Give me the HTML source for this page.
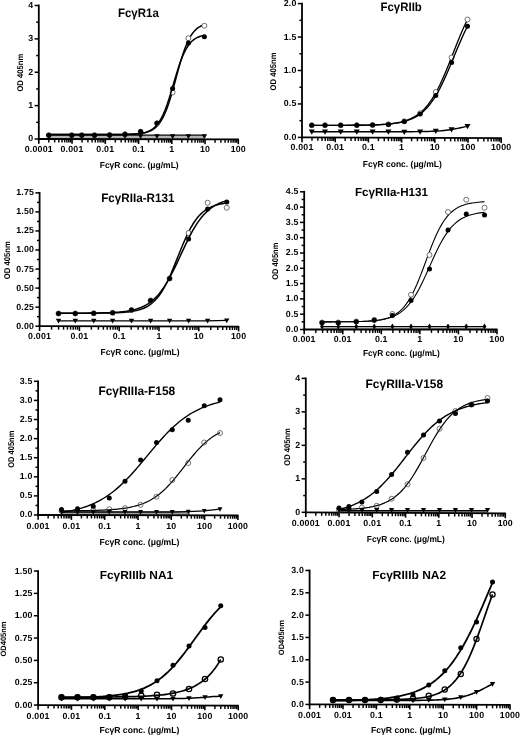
<!DOCTYPE html>
<html><head><meta charset="utf-8"><title>FcγR binding curves</title>
<style>
html,body{margin:0;padding:0;background:#fff;}
svg{display:block;will-change:transform;}
text{fill:#000;}
</style></head>
<body>
<svg width="520" height="736" viewBox="0 0 520 736" shape-rendering="geometricPrecision" text-rendering="geometricPrecision">
<rect x="0" y="0" width="520" height="736" fill="#fff"/>
<rect x="48.75" y="135.4" width="155.65" height="3.84" fill="#b4b4b4"/>
<g stroke="#000" stroke-width="1.8" fill="none" stroke-linecap="butt">
<path d="M38.8 4.58 V139.90"/>
<path d="M37.90 139.0 L238.90 139.40"/>
</g>
<g stroke="#000" stroke-width="1.5" fill="none">
<path d="M34.60 139.00 H38.8"/>
<path d="M36.20 122.31 H38.8"/>
<path d="M34.60 105.62 H38.8"/>
<path d="M36.20 88.93 H38.8"/>
<path d="M34.60 72.24 H38.8"/>
<path d="M36.20 55.55 H38.8"/>
<path d="M34.60 38.86 H38.8"/>
<path d="M36.20 22.17 H38.8"/>
<path d="M34.60 5.48 H38.8"/>
</g>
<g stroke="#000" stroke-width="1.6" fill="none">
<path d="M38.80 139.00 V143.80"/>
<path d="M48.81 139.02 V142.42" stroke-width="1.45"/>
<path d="M54.66 139.03 V142.43" stroke-width="1.45"/>
<path d="M58.82 139.04 V142.44" stroke-width="1.45"/>
<path d="M62.04 139.05 V142.45" stroke-width="1.45"/>
<path d="M64.67 139.05 V142.45" stroke-width="1.45"/>
<path d="M66.90 139.06 V142.46" stroke-width="1.45"/>
<path d="M68.83 139.06 V142.46" stroke-width="1.45"/>
<path d="M70.53 139.06 V142.46" stroke-width="1.45"/>
<path d="M72.05 139.07 V143.87"/>
<path d="M82.06 139.09 V142.49" stroke-width="1.45"/>
<path d="M87.91 139.10 V142.50" stroke-width="1.45"/>
<path d="M92.07 139.11 V142.51" stroke-width="1.45"/>
<path d="M95.29 139.11 V142.51" stroke-width="1.45"/>
<path d="M97.92 139.12 V142.52" stroke-width="1.45"/>
<path d="M100.15 139.12 V142.52" stroke-width="1.45"/>
<path d="M102.08 139.13 V142.53" stroke-width="1.45"/>
<path d="M103.78 139.13 V142.53" stroke-width="1.45"/>
<path d="M105.30 139.13 V143.93"/>
<path d="M115.31 139.15 V142.55" stroke-width="1.45"/>
<path d="M121.16 139.17 V142.57" stroke-width="1.45"/>
<path d="M125.32 139.17 V142.57" stroke-width="1.45"/>
<path d="M128.54 139.18 V142.58" stroke-width="1.45"/>
<path d="M131.17 139.19 V142.59" stroke-width="1.45"/>
<path d="M133.40 139.19 V142.59" stroke-width="1.45"/>
<path d="M135.33 139.19 V142.59" stroke-width="1.45"/>
<path d="M137.03 139.20 V142.60" stroke-width="1.45"/>
<path d="M138.55 139.20 V144.00"/>
<path d="M148.56 139.22 V142.62" stroke-width="1.45"/>
<path d="M154.41 139.23 V142.63" stroke-width="1.45"/>
<path d="M158.57 139.24 V142.64" stroke-width="1.45"/>
<path d="M161.79 139.25 V142.65" stroke-width="1.45"/>
<path d="M164.42 139.25 V142.65" stroke-width="1.45"/>
<path d="M166.65 139.26 V142.66" stroke-width="1.45"/>
<path d="M168.58 139.26 V142.66" stroke-width="1.45"/>
<path d="M170.28 139.26 V142.66" stroke-width="1.45"/>
<path d="M171.80 139.27 V144.07"/>
<path d="M181.81 139.29 V142.69" stroke-width="1.45"/>
<path d="M187.66 139.30 V142.70" stroke-width="1.45"/>
<path d="M191.82 139.31 V142.71" stroke-width="1.45"/>
<path d="M195.04 139.31 V142.71" stroke-width="1.45"/>
<path d="M197.67 139.32 V142.72" stroke-width="1.45"/>
<path d="M199.90 139.32 V142.72" stroke-width="1.45"/>
<path d="M201.83 139.33 V142.73" stroke-width="1.45"/>
<path d="M203.53 139.33 V142.73" stroke-width="1.45"/>
<path d="M205.05 139.33 V144.13"/>
<path d="M215.06 139.35 V142.75" stroke-width="1.45"/>
<path d="M220.91 139.37 V142.77" stroke-width="1.45"/>
<path d="M225.07 139.37 V142.77" stroke-width="1.45"/>
<path d="M228.29 139.38 V142.78" stroke-width="1.45"/>
<path d="M230.92 139.39 V142.79" stroke-width="1.45"/>
<path d="M233.15 139.39 V142.79" stroke-width="1.45"/>
<path d="M235.08 139.39 V142.79" stroke-width="1.45"/>
<path d="M236.78 139.40 V142.80" stroke-width="1.45"/>
<path d="M238.30 139.40 V144.20"/>
</g>
<g font-family='"Liberation Sans", Arial, Helvetica, sans-serif' font-weight="bold" font-size="8.8" letter-spacing="0.2" fill="#000">
<text x="33.30" y="141.47" text-anchor="end">0</text>
<text x="33.30" y="108.09" text-anchor="end">1</text>
<text x="33.30" y="74.71" text-anchor="end">2</text>
<text x="33.30" y="41.33" text-anchor="end">3</text>
<text x="33.30" y="7.95" text-anchor="end">4</text>
<text x="38.80" y="152.40" text-anchor="middle">0.0001</text>
<text x="72.05" y="152.40" text-anchor="middle">0.001</text>
<text x="105.30" y="152.40" text-anchor="middle">0.01</text>
<text x="138.55" y="152.40" text-anchor="middle">0.1</text>
<text x="171.80" y="152.40" text-anchor="middle">1</text>
<text x="205.05" y="152.40" text-anchor="middle">10</text>
<text x="238.30" y="152.40" text-anchor="middle">100</text>
</g>
<text x="139.2" y="167.5" text-anchor="middle" font-family='"Liberation Sans", Arial, Helvetica, sans-serif' font-weight="bold" font-size="8.8" textLength="79" lengthAdjust="spacingAndGlyphs">FcγR conc. (μg/mL)</text>
<text transform="translate(23.1 72.6) rotate(-90)" text-anchor="middle" font-family='"Liberation Sans", Arial, Helvetica, sans-serif' font-weight="bold" font-size="8.3" textLength="38" lengthAdjust="spacingAndGlyphs">OD 405nm</text>
<text x="117.9" y="17.3" text-anchor="start" font-family='"Liberation Sans", Arial, Helvetica, sans-serif' font-weight="bold" font-size="12.2" textLength="41" lengthAdjust="spacingAndGlyphs">FcγR1a</text>
<path d="M48.75 134.53 L50.72 134.53 L52.69 134.53 L54.66 134.53 L56.63 134.53 L58.60 134.53 L60.57 134.53 L62.54 134.53 L64.51 134.53 L66.48 134.53 L68.45 134.53 L70.42 134.53 L72.39 134.53 L74.36 134.53 L76.33 134.53 L78.30 134.53 L80.27 134.53 L82.24 134.53 L84.21 134.53 L86.18 134.53 L88.16 134.53 L90.13 134.53 L92.10 134.53 L94.07 134.53 L96.04 134.53 L98.01 134.53 L99.98 134.53 L101.95 134.53 L103.92 134.53 L105.89 134.52 L107.86 134.52 L109.83 134.52 L111.80 134.51 L113.77 134.51 L115.74 134.50 L117.71 134.49 L119.68 134.47 L121.65 134.45 L123.62 134.43 L125.59 134.39 L127.56 134.35 L129.53 134.30 L131.50 134.23 L133.47 134.14 L135.44 134.02 L137.41 133.87 L139.38 133.67 L141.35 133.41 L143.32 133.08 L145.29 132.65 L147.26 132.10 L149.23 131.39 L151.20 130.48 L153.17 129.33 L155.14 127.87 L157.11 126.02 L159.08 123.73 L161.05 120.89 L163.02 117.43 L164.99 113.28 L166.97 108.40 L168.94 102.80 L170.91 96.52 L172.88 89.69 L174.85 82.49 L176.82 75.15 L178.79 67.91 L180.76 61.01 L182.73 54.65 L184.70 48.94 L186.67 43.96 L188.64 39.72 L190.61 36.16 L192.58 33.24 L194.55 30.87 L196.52 28.97 L198.49 27.46 L200.46 26.27 L202.43 25.33 L204.40 24.60" fill="none" stroke="#000" stroke-width="1.5" stroke-linejoin="round"/>
<g fill="#fff" stroke="#444" stroke-width="0.75"><circle cx="48.75" cy="135.20" r="2.5"/><circle cx="71.75" cy="135.20" r="2.5"/><circle cx="81.75" cy="135.20" r="2.5"/><circle cx="94.50" cy="135.20" r="2.5"/><circle cx="109.60" cy="135.00" r="2.5"/><circle cx="125.00" cy="134.30" r="2.5"/><circle cx="140.60" cy="131.80" r="2.5"/><circle cx="157.00" cy="123.50" r="2.5"/><circle cx="172.60" cy="92.50" r="2.5"/><circle cx="188.40" cy="38.25" r="2.5"/><circle cx="204.40" cy="25.75" r="2.5"/></g>
<path d="M48.75 135.10 L71.75 135.10 L81.75 135.10 L94.50 135.10 L109.60 135.10 L125.00 135.10 L140.60 135.10 L157.00 135.10 L172.60 135.10 L188.40 135.10 L204.40 135.10" fill="none" stroke="#000" stroke-width="1.1" stroke-linejoin="round"/>
<g fill="#000"><path d="M46.05 134.28 L51.45 134.28 L48.75 139.08 Z"/><path d="M69.05 134.28 L74.45 134.28 L71.75 139.08 Z"/><path d="M79.05 134.28 L84.45 134.28 L81.75 139.08 Z"/><path d="M91.80 134.28 L97.20 134.28 L94.50 139.08 Z"/><path d="M106.90 134.28 L112.30 134.28 L109.60 139.08 Z"/><path d="M122.30 134.28 L127.70 134.28 L125.00 139.08 Z"/><path d="M137.90 134.28 L143.30 134.28 L140.60 139.08 Z"/><path d="M154.30 134.28 L159.70 134.28 L157.00 139.08 Z"/><path d="M169.90 134.28 L175.30 134.28 L172.60 139.08 Z"/><path d="M185.70 134.28 L191.10 134.28 L188.40 139.08 Z"/><path d="M201.70 134.28 L207.10 134.28 L204.40 139.08 Z"/></g>
<path d="M48.75 134.53 L50.72 134.53 L52.69 134.53 L54.66 134.53 L56.63 134.53 L58.60 134.53 L60.57 134.53 L62.54 134.53 L64.51 134.53 L66.48 134.53 L68.45 134.53 L70.42 134.53 L72.39 134.53 L74.36 134.53 L76.33 134.53 L78.30 134.53 L80.27 134.53 L82.24 134.53 L84.21 134.53 L86.18 134.53 L88.16 134.53 L90.13 134.53 L92.10 134.53 L94.07 134.53 L96.04 134.53 L98.01 134.53 L99.98 134.53 L101.95 134.53 L103.92 134.53 L105.89 134.52 L107.86 134.52 L109.83 134.52 L111.80 134.51 L113.77 134.51 L115.74 134.50 L117.71 134.48 L119.68 134.47 L121.65 134.45 L123.62 134.42 L125.59 134.39 L127.56 134.34 L129.53 134.28 L131.50 134.20 L133.47 134.10 L135.44 133.97 L137.41 133.79 L139.38 133.57 L141.35 133.28 L143.32 132.89 L145.29 132.40 L147.26 131.76 L149.23 130.93 L151.20 129.88 L153.17 128.53 L155.14 126.82 L157.11 124.68 L159.08 122.02 L161.05 118.76 L163.02 114.86 L164.99 110.26 L166.97 104.97 L168.94 99.07 L170.91 92.68 L172.88 86.00 L174.85 79.25 L176.82 72.68 L178.79 66.49 L180.76 60.85 L182.73 55.87 L184.70 51.59 L186.67 47.98 L188.64 45.00 L190.61 42.59 L192.58 40.65 L194.55 39.11 L196.52 37.90 L198.49 36.96 L200.46 36.22 L202.43 35.65 L204.40 35.21" fill="none" stroke="#000" stroke-width="1.5" stroke-linejoin="round"/>
<g fill="#000"><circle cx="48.75" cy="135.20" r="2.5"/><circle cx="71.75" cy="135.20" r="2.5"/><circle cx="81.75" cy="135.20" r="2.5"/><circle cx="94.50" cy="135.20" r="2.5"/><circle cx="109.60" cy="135.00" r="2.5"/><circle cx="125.00" cy="134.20" r="2.5"/><circle cx="140.60" cy="131.40" r="2.5"/><circle cx="157.00" cy="123.10" r="2.5"/><circle cx="172.60" cy="88.50" r="2.5"/><circle cx="188.40" cy="43.00" r="2.5"/><circle cx="204.40" cy="36.75" r="2.5"/></g>
<g stroke="#000" stroke-width="1.8" fill="none" stroke-linecap="butt">
<path d="M302.0 2.70 V138.30"/>
<path d="M301.10 137.4 L501.80 138.20"/>
</g>
<g stroke="#000" stroke-width="1.5" fill="none">
<path d="M297.80 137.40 H302.0"/>
<path d="M299.40 120.68 H302.0"/>
<path d="M297.80 103.95 H302.0"/>
<path d="M299.40 87.22 H302.0"/>
<path d="M297.80 70.50 H302.0"/>
<path d="M299.40 53.77 H302.0"/>
<path d="M297.80 37.05 H302.0"/>
<path d="M299.40 20.32 H302.0"/>
<path d="M297.80 3.60 H302.0"/>
</g>
<g stroke="#000" stroke-width="1.6" fill="none">
<path d="M302.00 137.40 V142.20"/>
<path d="M311.99 137.44 V140.84" stroke-width="1.45"/>
<path d="M317.84 137.46 V140.86" stroke-width="1.45"/>
<path d="M321.99 137.48 V140.88" stroke-width="1.45"/>
<path d="M325.21 137.49 V140.89" stroke-width="1.45"/>
<path d="M327.83 137.50 V140.90" stroke-width="1.45"/>
<path d="M330.06 137.51 V140.91" stroke-width="1.45"/>
<path d="M331.98 137.52 V140.92" stroke-width="1.45"/>
<path d="M333.68 137.53 V140.93" stroke-width="1.45"/>
<path d="M335.20 137.53 V142.33"/>
<path d="M345.19 137.57 V140.97" stroke-width="1.45"/>
<path d="M351.04 137.60 V141.00" stroke-width="1.45"/>
<path d="M355.19 137.61 V141.01" stroke-width="1.45"/>
<path d="M358.41 137.63 V141.03" stroke-width="1.45"/>
<path d="M361.03 137.64 V141.04" stroke-width="1.45"/>
<path d="M363.26 137.65 V141.05" stroke-width="1.45"/>
<path d="M365.18 137.65 V141.05" stroke-width="1.45"/>
<path d="M366.88 137.66 V141.06" stroke-width="1.45"/>
<path d="M368.40 137.67 V142.47"/>
<path d="M378.39 137.71 V141.11" stroke-width="1.45"/>
<path d="M384.24 137.73 V141.13" stroke-width="1.45"/>
<path d="M388.39 137.75 V141.15" stroke-width="1.45"/>
<path d="M391.61 137.76 V141.16" stroke-width="1.45"/>
<path d="M394.23 137.77 V141.17" stroke-width="1.45"/>
<path d="M396.46 137.78 V141.18" stroke-width="1.45"/>
<path d="M398.38 137.79 V141.19" stroke-width="1.45"/>
<path d="M400.08 137.79 V141.19" stroke-width="1.45"/>
<path d="M401.60 137.80 V142.60"/>
<path d="M411.59 137.84 V141.24" stroke-width="1.45"/>
<path d="M417.44 137.86 V141.26" stroke-width="1.45"/>
<path d="M421.59 137.88 V141.28" stroke-width="1.45"/>
<path d="M424.81 137.89 V141.29" stroke-width="1.45"/>
<path d="M427.43 137.90 V141.30" stroke-width="1.45"/>
<path d="M429.66 137.91 V141.31" stroke-width="1.45"/>
<path d="M431.58 137.92 V141.32" stroke-width="1.45"/>
<path d="M433.28 137.93 V141.33" stroke-width="1.45"/>
<path d="M434.80 137.93 V142.73"/>
<path d="M444.79 137.97 V141.37" stroke-width="1.45"/>
<path d="M450.64 138.00 V141.40" stroke-width="1.45"/>
<path d="M454.79 138.01 V141.41" stroke-width="1.45"/>
<path d="M458.01 138.03 V141.43" stroke-width="1.45"/>
<path d="M460.63 138.04 V141.44" stroke-width="1.45"/>
<path d="M462.86 138.05 V141.45" stroke-width="1.45"/>
<path d="M464.78 138.05 V141.45" stroke-width="1.45"/>
<path d="M466.48 138.06 V141.46" stroke-width="1.45"/>
<path d="M468.00 138.07 V142.87"/>
<path d="M477.99 138.11 V141.51" stroke-width="1.45"/>
<path d="M483.84 138.13 V141.53" stroke-width="1.45"/>
<path d="M487.99 138.15 V141.55" stroke-width="1.45"/>
<path d="M491.21 138.16 V141.56" stroke-width="1.45"/>
<path d="M493.83 138.17 V141.57" stroke-width="1.45"/>
<path d="M496.06 138.18 V141.58" stroke-width="1.45"/>
<path d="M497.98 138.19 V141.59" stroke-width="1.45"/>
<path d="M499.68 138.19 V141.59" stroke-width="1.45"/>
<path d="M501.20 138.20 V143.00"/>
</g>
<g font-family='"Liberation Sans", Arial, Helvetica, sans-serif' font-weight="bold" font-size="8.8" letter-spacing="0.2" fill="#000">
<text x="296.50" y="139.87" text-anchor="end">0.0</text>
<text x="296.50" y="106.42" text-anchor="end">0.5</text>
<text x="296.50" y="72.97" text-anchor="end">1.0</text>
<text x="296.50" y="39.52" text-anchor="end">1.5</text>
<text x="296.50" y="6.07" text-anchor="end">2.0</text>
<text x="302.00" y="150.30" text-anchor="middle">0.001</text>
<text x="335.20" y="150.30" text-anchor="middle">0.01</text>
<text x="368.40" y="150.30" text-anchor="middle">0.1</text>
<text x="401.60" y="150.30" text-anchor="middle">1</text>
<text x="434.80" y="150.30" text-anchor="middle">10</text>
<text x="468.00" y="150.30" text-anchor="middle">100</text>
<text x="501.20" y="150.30" text-anchor="middle">1000</text>
</g>
<text x="402.3" y="167.2" text-anchor="middle" font-family='"Liberation Sans", Arial, Helvetica, sans-serif' font-weight="bold" font-size="8.8" textLength="79" lengthAdjust="spacingAndGlyphs">FcγR conc. (μg/mL)</text>
<text transform="translate(275.6 71.5) rotate(-90)" text-anchor="middle" font-family='"Liberation Sans", Arial, Helvetica, sans-serif' font-weight="bold" font-size="8.3" textLength="38" lengthAdjust="spacingAndGlyphs">OD 405nm</text>
<text x="380.5" y="11.2" text-anchor="start" font-family='"Liberation Sans", Arial, Helvetica, sans-serif' font-weight="bold" font-size="12.2" textLength="41.3" lengthAdjust="spacingAndGlyphs">FcγRIIb</text>
<path d="M311.75 125.38 L313.72 125.38 L315.69 125.38 L317.66 125.38 L319.64 125.38 L321.61 125.38 L323.58 125.38 L325.55 125.37 L327.52 125.37 L329.49 125.37 L331.47 125.37 L333.44 125.36 L335.41 125.36 L337.38 125.35 L339.35 125.35 L341.32 125.34 L343.29 125.33 L345.27 125.32 L347.24 125.31 L349.21 125.30 L351.18 125.29 L353.15 125.27 L355.12 125.26 L357.09 125.24 L359.07 125.21 L361.04 125.19 L363.01 125.16 L364.98 125.12 L366.95 125.08 L368.92 125.04 L370.90 124.98 L372.87 124.92 L374.84 124.85 L376.81 124.77 L378.78 124.67 L380.75 124.57 L382.72 124.44 L384.70 124.30 L386.67 124.14 L388.64 123.95 L390.61 123.73 L392.58 123.49 L394.55 123.20 L396.53 122.88 L398.50 122.51 L400.47 122.08 L402.44 121.59 L404.41 121.04 L406.38 120.40 L408.35 119.68 L410.33 118.85 L412.30 117.91 L414.27 116.85 L416.24 115.65 L418.21 114.29 L420.18 112.75 L422.16 111.03 L424.13 109.11 L426.10 106.96 L428.07 104.58 L430.04 101.95 L432.01 99.06 L433.98 95.90 L435.96 92.46 L437.93 88.76 L439.90 84.79 L441.87 80.57 L443.84 76.13 L445.81 71.49 L447.78 66.69 L449.76 61.76 L451.73 56.76 L453.70 51.73 L455.67 46.72 L457.64 41.79 L459.61 36.97 L461.59 32.31 L463.56 27.84 L465.53 23.60 L467.50 19.61" fill="none" stroke="#000" stroke-width="1.3" stroke-linejoin="round"/>
<g fill="#fff" stroke="#444" stroke-width="0.75"><circle cx="311.75" cy="125.25" r="2.5"/><circle cx="325.00" cy="125.25" r="2.5"/><circle cx="340.70" cy="125.25" r="2.5"/><circle cx="356.80" cy="125.20" r="2.5"/><circle cx="372.60" cy="125.00" r="2.5"/><circle cx="388.40" cy="124.30" r="2.5"/><circle cx="404.30" cy="121.30" r="2.5"/><circle cx="420.10" cy="113.30" r="2.5"/><circle cx="435.80" cy="92.00" r="2.5"/><circle cx="451.60" cy="57.50" r="2.5"/><circle cx="467.50" cy="19.50" r="2.5"/></g>
<path d="M311.75 131.75 L313.72 131.75 L315.69 131.75 L317.66 131.75 L319.64 131.75 L321.61 131.75 L323.58 131.75 L325.55 131.75 L327.52 131.75 L329.49 131.75 L331.47 131.75 L333.44 131.75 L335.41 131.75 L337.38 131.75 L339.35 131.75 L341.32 131.75 L343.29 131.75 L345.27 131.75 L347.24 131.75 L349.21 131.75 L351.18 131.75 L353.15 131.75 L355.12 131.75 L357.09 131.75 L359.07 131.75 L361.04 131.75 L363.01 131.75 L364.98 131.75 L366.95 131.75 L368.92 131.75 L370.90 131.75 L372.87 131.75 L374.84 131.75 L376.81 131.75 L378.78 131.75 L380.75 131.75 L382.72 131.75 L384.70 131.75 L386.67 131.74 L388.64 131.74 L390.61 131.74 L392.58 131.74 L394.55 131.74 L396.53 131.73 L398.50 131.73 L400.47 131.73 L402.44 131.72 L404.41 131.72 L406.38 131.71 L408.35 131.70 L410.33 131.69 L412.30 131.68 L414.27 131.66 L416.24 131.64 L418.21 131.62 L420.18 131.60 L422.16 131.56 L424.13 131.53 L426.10 131.48 L428.07 131.43 L430.04 131.37 L432.01 131.29 L433.98 131.21 L435.96 131.10 L437.93 130.98 L439.90 130.84 L441.87 130.68 L443.84 130.49 L445.81 130.28 L447.78 130.03 L449.76 129.76 L451.73 129.45 L453.70 129.11 L455.67 128.75 L457.64 128.36 L459.61 127.96 L461.59 127.53 L463.56 127.10 L465.53 126.68 L467.50 126.25" fill="none" stroke="#000" stroke-width="1.4" stroke-linejoin="round"/>
<g fill="#000"><path d="M308.75 129.52 L314.75 129.52 L311.75 134.72 Z"/><path d="M322.00 129.52 L328.00 129.52 L325.00 134.72 Z"/><path d="M337.70 129.52 L343.70 129.52 L340.70 134.72 Z"/><path d="M353.80 129.52 L359.80 129.52 L356.80 134.72 Z"/><path d="M369.60 129.52 L375.60 129.52 L372.60 134.72 Z"/><path d="M385.40 129.52 L391.40 129.52 L388.40 134.72 Z"/><path d="M401.30 129.82 L407.30 129.82 L404.30 135.02 Z"/><path d="M417.10 129.52 L423.10 129.52 L420.10 134.72 Z"/><path d="M432.80 128.82 L438.80 128.82 L435.80 134.02 Z"/><path d="M448.60 127.32 L454.60 127.32 L451.60 132.52 Z"/><path d="M464.50 124.07 L470.50 124.07 L467.50 129.27 Z"/></g>
<path d="M311.75 125.38 L313.72 125.38 L315.69 125.38 L317.66 125.38 L319.64 125.38 L321.61 125.38 L323.58 125.38 L325.55 125.37 L327.52 125.37 L329.49 125.37 L331.47 125.37 L333.44 125.36 L335.41 125.36 L337.38 125.36 L339.35 125.35 L341.32 125.34 L343.29 125.34 L345.27 125.33 L347.24 125.32 L349.21 125.31 L351.18 125.30 L353.15 125.28 L355.12 125.27 L357.09 125.25 L359.07 125.23 L361.04 125.20 L363.01 125.18 L364.98 125.14 L366.95 125.11 L368.92 125.06 L370.90 125.02 L372.87 124.96 L374.84 124.89 L376.81 124.82 L378.78 124.74 L380.75 124.64 L382.72 124.52 L384.70 124.40 L386.67 124.25 L388.64 124.08 L390.61 123.88 L392.58 123.66 L394.55 123.40 L396.53 123.10 L398.50 122.77 L400.47 122.38 L402.44 121.94 L404.41 121.43 L406.38 120.86 L408.35 120.20 L410.33 119.45 L412.30 118.60 L414.27 117.64 L416.24 116.55 L418.21 115.31 L420.18 113.92 L422.16 112.36 L424.13 110.61 L426.10 108.66 L428.07 106.49 L430.04 104.09 L432.01 101.44 L433.98 98.55 L435.96 95.39 L437.93 91.98 L439.90 88.32 L441.87 84.41 L443.84 80.28 L445.81 75.95 L447.78 71.45 L449.76 66.82 L451.73 62.09 L453.70 57.32 L455.67 52.54 L457.64 47.81 L459.61 43.17 L461.59 38.67 L463.56 34.33 L465.53 30.19 L467.50 26.28" fill="none" stroke="#000" stroke-width="1.4" stroke-linejoin="round"/>
<g fill="#000"><circle cx="311.75" cy="125.25" r="2.5"/><circle cx="325.00" cy="125.25" r="2.5"/><circle cx="340.70" cy="125.25" r="2.5"/><circle cx="356.80" cy="125.20" r="2.5"/><circle cx="372.60" cy="125.00" r="2.5"/><circle cx="388.40" cy="124.50" r="2.5"/><circle cx="404.30" cy="121.50" r="2.5"/><circle cx="420.10" cy="114.00" r="2.5"/><circle cx="435.80" cy="95.50" r="2.5"/><circle cx="451.60" cy="62.50" r="2.5"/><circle cx="467.50" cy="26.25" r="2.5"/></g>
<g stroke="#000" stroke-width="1.8" fill="none" stroke-linecap="butt">
<path d="M39.6 191.95 V327.10"/>
<path d="M38.70 326.2 L239.20 326.60"/>
</g>
<g stroke="#000" stroke-width="1.5" fill="none">
<path d="M35.40 326.20 H39.6"/>
<path d="M37.00 316.68 H39.6"/>
<path d="M35.40 307.15 H39.6"/>
<path d="M37.00 297.62 H39.6"/>
<path d="M35.40 288.10 H39.6"/>
<path d="M37.00 278.57 H39.6"/>
<path d="M35.40 269.05 H39.6"/>
<path d="M37.00 259.52 H39.6"/>
<path d="M35.40 250.00 H39.6"/>
<path d="M37.00 240.47 H39.6"/>
<path d="M35.40 230.95 H39.6"/>
<path d="M37.00 221.42 H39.6"/>
<path d="M35.40 211.90 H39.6"/>
<path d="M37.00 202.37 H39.6"/>
<path d="M35.40 192.85 H39.6"/>
</g>
<g stroke="#000" stroke-width="1.6" fill="none">
<path d="M39.60 326.20 V331.00"/>
<path d="M51.58 326.22 V329.62" stroke-width="1.45"/>
<path d="M58.59 326.24 V329.64" stroke-width="1.45"/>
<path d="M63.56 326.25 V329.65" stroke-width="1.45"/>
<path d="M67.42 326.26 V329.66" stroke-width="1.45"/>
<path d="M70.57 326.26 V329.66" stroke-width="1.45"/>
<path d="M73.23 326.27 V329.67" stroke-width="1.45"/>
<path d="M75.54 326.27 V329.67" stroke-width="1.45"/>
<path d="M77.58 326.28 V329.68" stroke-width="1.45"/>
<path d="M79.40 326.28 V331.08"/>
<path d="M91.38 326.30 V329.70" stroke-width="1.45"/>
<path d="M98.39 326.32 V329.72" stroke-width="1.45"/>
<path d="M103.36 326.33 V329.73" stroke-width="1.45"/>
<path d="M107.22 326.34 V329.74" stroke-width="1.45"/>
<path d="M110.37 326.34 V329.74" stroke-width="1.45"/>
<path d="M113.03 326.35 V329.75" stroke-width="1.45"/>
<path d="M115.34 326.35 V329.75" stroke-width="1.45"/>
<path d="M117.38 326.36 V329.76" stroke-width="1.45"/>
<path d="M119.20 326.36 V331.16"/>
<path d="M131.18 326.38 V329.78" stroke-width="1.45"/>
<path d="M138.19 326.40 V329.80" stroke-width="1.45"/>
<path d="M143.16 326.41 V329.81" stroke-width="1.45"/>
<path d="M147.02 326.42 V329.82" stroke-width="1.45"/>
<path d="M150.17 326.42 V329.82" stroke-width="1.45"/>
<path d="M152.83 326.43 V329.83" stroke-width="1.45"/>
<path d="M155.14 326.43 V329.83" stroke-width="1.45"/>
<path d="M157.18 326.44 V329.84" stroke-width="1.45"/>
<path d="M159.00 326.44 V331.24"/>
<path d="M170.98 326.46 V329.86" stroke-width="1.45"/>
<path d="M177.99 326.48 V329.88" stroke-width="1.45"/>
<path d="M182.96 326.49 V329.89" stroke-width="1.45"/>
<path d="M186.82 326.50 V329.90" stroke-width="1.45"/>
<path d="M189.97 326.50 V329.90" stroke-width="1.45"/>
<path d="M192.63 326.51 V329.91" stroke-width="1.45"/>
<path d="M194.94 326.51 V329.91" stroke-width="1.45"/>
<path d="M196.98 326.52 V329.92" stroke-width="1.45"/>
<path d="M198.80 326.52 V331.32"/>
<path d="M210.78 326.54 V329.94" stroke-width="1.45"/>
<path d="M217.79 326.56 V329.96" stroke-width="1.45"/>
<path d="M222.76 326.57 V329.97" stroke-width="1.45"/>
<path d="M226.62 326.58 V329.98" stroke-width="1.45"/>
<path d="M229.77 326.58 V329.98" stroke-width="1.45"/>
<path d="M232.43 326.59 V329.99" stroke-width="1.45"/>
<path d="M234.74 326.59 V329.99" stroke-width="1.45"/>
<path d="M236.78 326.60 V330.00" stroke-width="1.45"/>
<path d="M238.60 326.60 V331.40"/>
</g>
<g font-family='"Liberation Sans", Arial, Helvetica, sans-serif' font-weight="bold" font-size="8.8" letter-spacing="0.2" fill="#000">
<text x="34.10" y="328.67" text-anchor="end">0.00</text>
<text x="34.10" y="309.62" text-anchor="end">0.25</text>
<text x="34.10" y="290.57" text-anchor="end">0.50</text>
<text x="34.10" y="271.52" text-anchor="end">0.75</text>
<text x="34.10" y="252.47" text-anchor="end">1.00</text>
<text x="34.10" y="233.42" text-anchor="end">1.25</text>
<text x="34.10" y="214.37" text-anchor="end">1.50</text>
<text x="34.10" y="195.32" text-anchor="end">1.75</text>
<text x="39.60" y="339.30" text-anchor="middle">0.001</text>
<text x="79.40" y="339.30" text-anchor="middle">0.01</text>
<text x="119.20" y="339.30" text-anchor="middle">0.1</text>
<text x="159.00" y="339.30" text-anchor="middle">1</text>
<text x="198.80" y="339.30" text-anchor="middle">10</text>
<text x="238.60" y="339.30" text-anchor="middle">100</text>
</g>
<text x="140.0" y="355.3" text-anchor="middle" font-family='"Liberation Sans", Arial, Helvetica, sans-serif' font-weight="bold" font-size="8.8" textLength="79" lengthAdjust="spacingAndGlyphs">FcγR conc. (μg/mL)</text>
<text transform="translate(9.8 260.2) rotate(-90)" text-anchor="middle" font-family='"Liberation Sans", Arial, Helvetica, sans-serif' font-weight="bold" font-size="8.3" textLength="38" lengthAdjust="spacingAndGlyphs">OD 405nm</text>
<text x="101.25" y="202" text-anchor="start" font-family='"Liberation Sans", Arial, Helvetica, sans-serif' font-weight="bold" font-size="12.2" textLength="73.25" lengthAdjust="spacingAndGlyphs">FcγRIIa-R131</text>
<path d="M58.50 313.23 L60.63 313.23 L62.76 313.23 L64.89 313.23 L67.02 313.23 L69.15 313.22 L71.28 313.22 L73.41 313.22 L75.54 313.22 L77.67 313.22 L79.80 313.21 L81.93 313.21 L84.06 313.21 L86.19 313.20 L88.32 313.20 L90.45 313.19 L92.58 313.18 L94.71 313.17 L96.84 313.15 L98.97 313.14 L101.09 313.12 L103.22 313.10 L105.35 313.07 L107.48 313.03 L109.61 312.99 L111.74 312.94 L113.87 312.88 L116.00 312.80 L118.13 312.71 L120.26 312.60 L122.39 312.47 L124.52 312.31 L126.65 312.12 L128.78 311.89 L130.91 311.60 L133.04 311.27 L135.17 310.86 L137.30 310.37 L139.43 309.78 L141.56 309.08 L143.69 308.24 L145.82 307.23 L147.95 306.05 L150.08 304.64 L152.21 302.99 L154.34 301.05 L156.47 298.81 L158.60 296.22 L160.73 293.26 L162.86 289.91 L164.99 286.17 L167.12 282.04 L169.25 277.54 L171.38 272.73 L173.51 267.65 L175.64 262.40 L177.77 257.06 L179.90 251.73 L182.03 246.50 L184.16 241.46 L186.28 236.70 L188.41 232.27 L190.54 228.20 L192.67 224.53 L194.80 221.25 L196.93 218.35 L199.06 215.82 L201.19 213.63 L203.32 211.75 L205.45 210.14 L207.58 208.77 L209.71 207.62 L211.84 206.64 L213.97 205.83 L216.10 205.15 L218.23 204.58 L220.36 204.10 L222.49 203.71 L224.62 203.38 L226.75 203.11" fill="none" stroke="#000" stroke-width="1.5" stroke-linejoin="round"/>
<g fill="#fff" stroke="#444" stroke-width="0.75"><circle cx="58.50" cy="313.50" r="2.5"/><circle cx="75.30" cy="313.50" r="2.5"/><circle cx="93.75" cy="313.30" r="2.5"/><circle cx="112.60" cy="312.80" r="2.5"/><circle cx="131.50" cy="310.00" r="2.5"/><circle cx="150.60" cy="300.50" r="2.5"/><circle cx="169.60" cy="278.50" r="2.5"/><circle cx="188.60" cy="233.00" r="2.5"/><circle cx="207.60" cy="202.75" r="2.5"/><circle cx="226.75" cy="207.75" r="2.5"/></g>
<path d="M58.50 320.80 L75.30 320.80 L93.75 320.80 L112.60 320.80 L131.50 320.80 L150.60 320.80 L169.60 320.80 L188.60 320.80 L207.60 320.80 L226.75 320.40" fill="none" stroke="#000" stroke-width="1.3" stroke-linejoin="round"/>
<g fill="#000"><path d="M55.80 318.78 L61.20 318.78 L58.50 323.58 Z"/><path d="M72.60 318.78 L78.00 318.78 L75.30 323.58 Z"/><path d="M91.05 318.78 L96.45 318.78 L93.75 323.58 Z"/><path d="M109.90 318.78 L115.30 318.78 L112.60 323.58 Z"/><path d="M128.80 318.78 L134.20 318.78 L131.50 323.58 Z"/><path d="M147.90 318.78 L153.30 318.78 L150.60 323.58 Z"/><path d="M166.90 318.78 L172.30 318.78 L169.60 323.58 Z"/><path d="M185.90 318.78 L191.30 318.78 L188.60 323.58 Z"/><path d="M204.90 318.78 L210.30 318.78 L207.60 323.58 Z"/><path d="M224.05 318.38 L229.45 318.38 L226.75 323.18 Z"/></g>
<path d="M58.50 313.22 L60.63 313.22 L62.76 313.21 L64.89 313.21 L67.02 313.21 L69.15 313.20 L71.28 313.20 L73.41 313.19 L75.54 313.18 L77.67 313.18 L79.80 313.17 L81.93 313.16 L84.06 313.14 L86.19 313.13 L88.32 313.11 L90.45 313.09 L92.58 313.07 L94.71 313.04 L96.84 313.01 L98.97 312.97 L101.09 312.92 L103.22 312.87 L105.35 312.81 L107.48 312.73 L109.61 312.65 L111.74 312.55 L113.87 312.43 L116.00 312.30 L118.13 312.14 L120.26 311.95 L122.39 311.73 L124.52 311.48 L126.65 311.19 L128.78 310.84 L130.91 310.44 L133.04 309.97 L135.17 309.43 L137.30 308.80 L139.43 308.08 L141.56 307.23 L143.69 306.26 L145.82 305.15 L147.95 303.87 L150.08 302.41 L152.21 300.75 L154.34 298.87 L156.47 296.75 L158.60 294.38 L160.73 291.73 L162.86 288.81 L164.99 285.61 L167.12 282.14 L169.25 278.39 L171.38 274.41 L173.51 270.20 L175.64 265.83 L177.77 261.32 L179.90 256.74 L182.03 252.13 L184.16 247.57 L186.28 243.10 L188.41 238.77 L190.54 234.64 L192.67 230.73 L194.80 227.07 L196.93 223.69 L199.06 220.58 L201.19 217.75 L203.32 215.20 L205.45 212.92 L207.58 210.88 L209.71 209.07 L211.84 207.48 L213.97 206.08 L216.10 204.86 L218.23 203.80 L220.36 202.87 L222.49 202.07 L224.62 201.38 L226.75 200.78" fill="none" stroke="#000" stroke-width="1.5" stroke-linejoin="round"/>
<g fill="#000"><circle cx="58.50" cy="313.50" r="2.5"/><circle cx="75.30" cy="313.50" r="2.5"/><circle cx="93.75" cy="313.30" r="2.5"/><circle cx="112.60" cy="312.80" r="2.5"/><circle cx="131.50" cy="310.00" r="2.5"/><circle cx="150.60" cy="300.50" r="2.5"/><circle cx="169.60" cy="278.50" r="2.5"/><circle cx="188.60" cy="239.00" r="2.5"/><circle cx="207.60" cy="209.00" r="2.5"/><circle cx="226.75" cy="202.00" r="2.5"/></g>
<rect x="322" y="326.6" width="162.5" height="2.90" fill="#b0b0b0"/>
<g stroke="#000" stroke-width="1.8" fill="none" stroke-linecap="butt">
<path d="M304.2 190.90 V330.40"/>
<path d="M303.30 329.5 L497.55 329.50"/>
</g>
<g stroke="#000" stroke-width="1.5" fill="none">
<path d="M300.00 329.50 H304.2"/>
<path d="M301.60 321.85 H304.2"/>
<path d="M300.00 314.20 H304.2"/>
<path d="M301.60 306.55 H304.2"/>
<path d="M300.00 298.90 H304.2"/>
<path d="M301.60 291.25 H304.2"/>
<path d="M300.00 283.60 H304.2"/>
<path d="M301.60 275.95 H304.2"/>
<path d="M300.00 268.30 H304.2"/>
<path d="M301.60 260.65 H304.2"/>
<path d="M300.00 253.00 H304.2"/>
<path d="M301.60 245.35 H304.2"/>
<path d="M300.00 237.70 H304.2"/>
<path d="M301.60 230.05 H304.2"/>
<path d="M300.00 222.40 H304.2"/>
<path d="M301.60 214.75 H304.2"/>
<path d="M300.00 207.10 H304.2"/>
<path d="M301.60 199.45 H304.2"/>
<path d="M300.00 191.80 H304.2"/>
</g>
<g stroke="#000" stroke-width="1.6" fill="none">
<path d="M304.20 329.50 V334.30"/>
<path d="M315.80 329.50 V332.90" stroke-width="1.45"/>
<path d="M322.59 329.50 V332.90" stroke-width="1.45"/>
<path d="M327.41 329.50 V332.90" stroke-width="1.45"/>
<path d="M331.15 329.50 V332.90" stroke-width="1.45"/>
<path d="M334.20 329.50 V332.90" stroke-width="1.45"/>
<path d="M336.78 329.50 V332.90" stroke-width="1.45"/>
<path d="M339.01 329.50 V332.90" stroke-width="1.45"/>
<path d="M340.99 329.50 V332.90" stroke-width="1.45"/>
<path d="M342.75 329.50 V334.30"/>
<path d="M354.35 329.50 V332.90" stroke-width="1.45"/>
<path d="M361.14 329.50 V332.90" stroke-width="1.45"/>
<path d="M365.96 329.50 V332.90" stroke-width="1.45"/>
<path d="M369.70 329.50 V332.90" stroke-width="1.45"/>
<path d="M372.75 329.50 V332.90" stroke-width="1.45"/>
<path d="M375.33 329.50 V332.90" stroke-width="1.45"/>
<path d="M377.56 329.50 V332.90" stroke-width="1.45"/>
<path d="M379.54 329.50 V332.90" stroke-width="1.45"/>
<path d="M381.30 329.50 V334.30"/>
<path d="M392.90 329.50 V332.90" stroke-width="1.45"/>
<path d="M399.69 329.50 V332.90" stroke-width="1.45"/>
<path d="M404.51 329.50 V332.90" stroke-width="1.45"/>
<path d="M408.25 329.50 V332.90" stroke-width="1.45"/>
<path d="M411.30 329.50 V332.90" stroke-width="1.45"/>
<path d="M413.88 329.50 V332.90" stroke-width="1.45"/>
<path d="M416.11 329.50 V332.90" stroke-width="1.45"/>
<path d="M418.09 329.50 V332.90" stroke-width="1.45"/>
<path d="M419.85 329.50 V334.30"/>
<path d="M431.45 329.50 V332.90" stroke-width="1.45"/>
<path d="M438.24 329.50 V332.90" stroke-width="1.45"/>
<path d="M443.06 329.50 V332.90" stroke-width="1.45"/>
<path d="M446.80 329.50 V332.90" stroke-width="1.45"/>
<path d="M449.85 329.50 V332.90" stroke-width="1.45"/>
<path d="M452.43 329.50 V332.90" stroke-width="1.45"/>
<path d="M454.66 329.50 V332.90" stroke-width="1.45"/>
<path d="M456.64 329.50 V332.90" stroke-width="1.45"/>
<path d="M458.40 329.50 V334.30"/>
<path d="M470.00 329.50 V332.90" stroke-width="1.45"/>
<path d="M476.79 329.50 V332.90" stroke-width="1.45"/>
<path d="M481.61 329.50 V332.90" stroke-width="1.45"/>
<path d="M485.35 329.50 V332.90" stroke-width="1.45"/>
<path d="M488.40 329.50 V332.90" stroke-width="1.45"/>
<path d="M490.98 329.50 V332.90" stroke-width="1.45"/>
<path d="M493.21 329.50 V332.90" stroke-width="1.45"/>
<path d="M495.19 329.50 V332.90" stroke-width="1.45"/>
<path d="M496.95 329.50 V334.30"/>
</g>
<g font-family='"Liberation Sans", Arial, Helvetica, sans-serif' font-weight="bold" font-size="8.8" letter-spacing="0.2" fill="#000">
<text x="298.70" y="331.97" text-anchor="end">0.0</text>
<text x="298.70" y="316.67" text-anchor="end">0.5</text>
<text x="298.70" y="301.37" text-anchor="end">1.0</text>
<text x="298.70" y="286.07" text-anchor="end">1.5</text>
<text x="298.70" y="270.77" text-anchor="end">2.0</text>
<text x="298.70" y="255.47" text-anchor="end">2.5</text>
<text x="298.70" y="240.17" text-anchor="end">3.0</text>
<text x="298.70" y="224.87" text-anchor="end">3.5</text>
<text x="298.70" y="209.57" text-anchor="end">4.0</text>
<text x="298.70" y="194.27" text-anchor="end">4.5</text>
<text x="304.20" y="342.00" text-anchor="middle">0.001</text>
<text x="342.75" y="342.00" text-anchor="middle">0.01</text>
<text x="381.30" y="342.00" text-anchor="middle">0.1</text>
<text x="419.85" y="342.00" text-anchor="middle">1</text>
<text x="458.40" y="342.00" text-anchor="middle">10</text>
<text x="496.95" y="342.00" text-anchor="middle">100</text>
</g>
<text x="401.4" y="356.2" text-anchor="middle" font-family='"Liberation Sans", Arial, Helvetica, sans-serif' font-weight="bold" font-size="8.8" textLength="77" lengthAdjust="spacingAndGlyphs">FcγR conc. (μg/mL)</text>
<text transform="translate(278.2 261.2) rotate(-90)" text-anchor="middle" font-family='"Liberation Sans", Arial, Helvetica, sans-serif' font-weight="bold" font-size="8.3" textLength="37" lengthAdjust="spacingAndGlyphs">OD 405nm</text>
<text x="355" y="195.8" text-anchor="start" font-family='"Liberation Sans", Arial, Helvetica, sans-serif' font-weight="bold" font-size="11.8" textLength="73" lengthAdjust="spacingAndGlyphs">FcγRIIa-H131</text>
<path d="M322.00 321.85 L324.06 321.85 L326.11 321.84 L328.17 321.84 L330.23 321.84 L332.28 321.83 L334.34 321.83 L336.40 321.82 L338.46 321.81 L340.51 321.80 L342.57 321.79 L344.63 321.78 L346.68 321.76 L348.74 321.74 L350.80 321.72 L352.85 321.69 L354.91 321.65 L356.97 321.61 L359.03 321.56 L361.08 321.50 L363.14 321.43 L365.20 321.34 L367.25 321.23 L369.31 321.11 L371.37 320.95 L373.42 320.77 L375.48 320.55 L377.54 320.29 L379.59 319.98 L381.65 319.60 L383.71 319.16 L385.77 318.62 L387.82 317.99 L389.88 317.23 L391.94 316.33 L393.99 315.27 L396.05 314.02 L398.11 312.56 L400.16 310.84 L402.22 308.85 L404.28 306.55 L406.34 303.90 L408.39 300.89 L410.45 297.50 L412.51 293.71 L414.56 289.53 L416.62 284.97 L418.68 280.08 L420.73 274.90 L422.79 269.51 L424.85 263.98 L426.91 258.41 L428.96 252.90 L431.02 247.52 L433.08 242.37 L435.13 237.52 L437.19 233.00 L439.25 228.86 L441.30 225.12 L443.36 221.77 L445.42 218.80 L447.47 216.19 L449.53 213.92 L451.59 211.96 L453.65 210.27 L455.70 208.83 L457.76 207.61 L459.82 206.57 L461.87 205.69 L463.93 204.94 L465.99 204.32 L468.04 203.80 L470.10 203.36 L472.16 202.99 L474.22 202.68 L476.27 202.43 L478.33 202.21 L480.39 202.03 L482.44 201.88 L484.50 201.76" fill="none" stroke="#000" stroke-width="1.1" stroke-linejoin="round"/>
<g fill="#fff" stroke="#444" stroke-width="0.75"><circle cx="322.00" cy="322.50" r="2.5"/><circle cx="338.25" cy="322.50" r="2.5"/><circle cx="356.25" cy="321.50" r="2.5"/><circle cx="374.25" cy="319.80" r="2.5"/><circle cx="392.40" cy="314.00" r="2.5"/><circle cx="411.00" cy="294.75" r="2.5"/><circle cx="429.50" cy="255.00" r="2.5"/><circle cx="448.00" cy="212.00" r="2.5"/><circle cx="466.25" cy="199.75" r="2.5"/><circle cx="484.50" cy="207.75" r="2.5"/></g>
<path d="M322.00 326.50 L338.25 326.50 L356.25 326.50 L374.25 326.50 L392.40 326.50 L411.00 326.50 L429.50 326.50 L448.00 326.50 L466.25 326.50 L484.50 326.50" fill="none" stroke="#000" stroke-width="1.2" stroke-linejoin="round"/>
<g fill="#000"><path d="M320.10 326.50 L322.00 323.50 L323.90 326.50 L322.00 329.50 Z"/><path d="M336.35 326.50 L338.25 323.50 L340.15 326.50 L338.25 329.50 Z"/><path d="M354.35 326.50 L356.25 323.50 L358.15 326.50 L356.25 329.50 Z"/><path d="M372.35 326.50 L374.25 323.50 L376.15 326.50 L374.25 329.50 Z"/><path d="M390.50 326.50 L392.40 323.50 L394.30 326.50 L392.40 329.50 Z"/><path d="M409.10 326.50 L411.00 323.50 L412.90 326.50 L411.00 329.50 Z"/><path d="M427.60 326.50 L429.50 323.50 L431.40 326.50 L429.50 329.50 Z"/><path d="M446.10 326.50 L448.00 323.50 L449.90 326.50 L448.00 329.50 Z"/><path d="M464.35 326.50 L466.25 323.50 L468.15 326.50 L466.25 329.50 Z"/><path d="M482.60 326.50 L484.50 323.50 L486.40 326.50 L484.50 329.50 Z"/></g>
<path d="M322.00 321.84 L324.06 321.84 L326.11 321.84 L328.17 321.83 L330.23 321.83 L332.28 321.82 L334.34 321.81 L336.40 321.80 L338.46 321.79 L340.51 321.78 L342.57 321.77 L344.63 321.75 L346.68 321.73 L348.74 321.71 L350.80 321.68 L352.85 321.65 L354.91 321.61 L356.97 321.56 L359.03 321.51 L361.08 321.45 L363.14 321.37 L365.20 321.28 L367.25 321.18 L369.31 321.05 L371.37 320.91 L373.42 320.74 L375.48 320.53 L377.54 320.30 L379.59 320.01 L381.65 319.68 L383.71 319.30 L385.77 318.84 L387.82 318.31 L389.88 317.68 L391.94 316.96 L393.99 316.11 L396.05 315.12 L398.11 313.98 L400.16 312.66 L402.22 311.14 L404.28 309.41 L406.34 307.43 L408.39 305.19 L410.45 302.68 L412.51 299.87 L414.56 296.77 L416.62 293.37 L418.68 289.68 L420.73 285.72 L422.79 281.53 L424.85 277.14 L426.91 272.60 L428.96 267.99 L431.02 263.35 L433.08 258.75 L435.13 254.27 L437.19 249.94 L439.25 245.82 L441.30 241.96 L443.36 238.37 L445.42 235.07 L447.47 232.07 L449.53 229.37 L451.59 226.95 L453.65 224.80 L455.70 222.91 L457.76 221.26 L459.82 219.81 L461.87 218.56 L463.93 217.47 L465.99 216.53 L468.04 215.73 L470.10 215.04 L472.16 214.45 L474.22 213.94 L476.27 213.51 L478.33 213.15 L480.39 212.83 L482.44 212.57 L484.50 212.34" fill="none" stroke="#000" stroke-width="1.1" stroke-linejoin="round"/>
<g fill="#000"><circle cx="322.00" cy="322.75" r="2.5"/><circle cx="338.25" cy="322.75" r="2.5"/><circle cx="356.25" cy="321.75" r="2.5"/><circle cx="374.25" cy="320.25" r="2.5"/><circle cx="392.40" cy="315.50" r="2.5"/><circle cx="411.00" cy="300.50" r="2.5"/><circle cx="429.50" cy="269.00" r="2.5"/><circle cx="448.00" cy="230.00" r="2.5"/><circle cx="466.25" cy="214.00" r="2.5"/><circle cx="484.50" cy="215.00" r="2.5"/></g>
<rect x="61.5" y="511.5" width="128.5" height="3.68" fill="#a0a0a0"/>
<g stroke="#000" stroke-width="1.8" fill="none" stroke-linecap="butt">
<path d="M38.1 380.40 V515.90"/>
<path d="M37.20 515.0 L238.50 515.30"/>
</g>
<g stroke="#000" stroke-width="1.5" fill="none">
<path d="M33.90 515.00 H38.1"/>
<path d="M35.50 505.45 H38.1"/>
<path d="M33.90 495.90 H38.1"/>
<path d="M35.50 486.35 H38.1"/>
<path d="M33.90 476.80 H38.1"/>
<path d="M35.50 467.25 H38.1"/>
<path d="M33.90 457.70 H38.1"/>
<path d="M35.50 448.15 H38.1"/>
<path d="M33.90 438.60 H38.1"/>
<path d="M35.50 429.05 H38.1"/>
<path d="M33.90 419.50 H38.1"/>
<path d="M35.50 409.95 H38.1"/>
<path d="M33.90 400.40 H38.1"/>
<path d="M35.50 390.85 H38.1"/>
<path d="M33.90 381.30 H38.1"/>
</g>
<g stroke="#000" stroke-width="1.6" fill="none">
<path d="M38.10 515.00 V519.80"/>
<path d="M48.12 515.02 V518.42" stroke-width="1.45"/>
<path d="M53.99 515.02 V518.42" stroke-width="1.45"/>
<path d="M58.15 515.03 V518.43" stroke-width="1.45"/>
<path d="M61.38 515.03 V518.43" stroke-width="1.45"/>
<path d="M64.01 515.04 V518.44" stroke-width="1.45"/>
<path d="M66.24 515.04 V518.44" stroke-width="1.45"/>
<path d="M68.17 515.05 V518.45" stroke-width="1.45"/>
<path d="M69.88 515.05 V518.45" stroke-width="1.45"/>
<path d="M71.40 515.05 V519.85"/>
<path d="M81.42 515.07 V518.47" stroke-width="1.45"/>
<path d="M87.29 515.07 V518.47" stroke-width="1.45"/>
<path d="M91.45 515.08 V518.48" stroke-width="1.45"/>
<path d="M94.68 515.08 V518.48" stroke-width="1.45"/>
<path d="M97.31 515.09 V518.49" stroke-width="1.45"/>
<path d="M99.54 515.09 V518.49" stroke-width="1.45"/>
<path d="M101.47 515.10 V518.50" stroke-width="1.45"/>
<path d="M103.18 515.10 V518.50" stroke-width="1.45"/>
<path d="M104.70 515.10 V519.90"/>
<path d="M114.72 515.12 V518.52" stroke-width="1.45"/>
<path d="M120.59 515.12 V518.52" stroke-width="1.45"/>
<path d="M124.75 515.13 V518.53" stroke-width="1.45"/>
<path d="M127.98 515.13 V518.53" stroke-width="1.45"/>
<path d="M130.61 515.14 V518.54" stroke-width="1.45"/>
<path d="M132.84 515.14 V518.54" stroke-width="1.45"/>
<path d="M134.77 515.15 V518.55" stroke-width="1.45"/>
<path d="M136.48 515.15 V518.55" stroke-width="1.45"/>
<path d="M138.00 515.15 V519.95"/>
<path d="M148.02 515.17 V518.57" stroke-width="1.45"/>
<path d="M153.89 515.17 V518.57" stroke-width="1.45"/>
<path d="M158.05 515.18 V518.58" stroke-width="1.45"/>
<path d="M161.28 515.18 V518.58" stroke-width="1.45"/>
<path d="M163.91 515.19 V518.59" stroke-width="1.45"/>
<path d="M166.14 515.19 V518.59" stroke-width="1.45"/>
<path d="M168.07 515.20 V518.60" stroke-width="1.45"/>
<path d="M169.78 515.20 V518.60" stroke-width="1.45"/>
<path d="M171.30 515.20 V520.00"/>
<path d="M181.32 515.22 V518.62" stroke-width="1.45"/>
<path d="M187.19 515.22 V518.62" stroke-width="1.45"/>
<path d="M191.35 515.23 V518.63" stroke-width="1.45"/>
<path d="M194.58 515.23 V518.63" stroke-width="1.45"/>
<path d="M197.21 515.24 V518.64" stroke-width="1.45"/>
<path d="M199.44 515.24 V518.64" stroke-width="1.45"/>
<path d="M201.37 515.25 V518.65" stroke-width="1.45"/>
<path d="M203.08 515.25 V518.65" stroke-width="1.45"/>
<path d="M204.60 515.25 V520.05"/>
<path d="M214.62 515.27 V518.67" stroke-width="1.45"/>
<path d="M220.49 515.27 V518.67" stroke-width="1.45"/>
<path d="M224.65 515.28 V518.68" stroke-width="1.45"/>
<path d="M227.88 515.28 V518.68" stroke-width="1.45"/>
<path d="M230.51 515.29 V518.69" stroke-width="1.45"/>
<path d="M232.74 515.29 V518.69" stroke-width="1.45"/>
<path d="M234.67 515.30 V518.70" stroke-width="1.45"/>
<path d="M236.38 515.30 V518.70" stroke-width="1.45"/>
<path d="M237.90 515.30 V520.10"/>
</g>
<g font-family='"Liberation Sans", Arial, Helvetica, sans-serif' font-weight="bold" font-size="8.8" letter-spacing="0.2" fill="#000">
<text x="32.60" y="517.47" text-anchor="end">0.0</text>
<text x="32.60" y="498.37" text-anchor="end">0.5</text>
<text x="32.60" y="479.27" text-anchor="end">1.0</text>
<text x="32.60" y="460.17" text-anchor="end">1.5</text>
<text x="32.60" y="441.07" text-anchor="end">2.0</text>
<text x="32.60" y="421.97" text-anchor="end">2.5</text>
<text x="32.60" y="402.87" text-anchor="end">3.0</text>
<text x="32.60" y="383.77" text-anchor="end">3.5</text>
<text x="38.10" y="528.50" text-anchor="middle">0.001</text>
<text x="71.40" y="528.50" text-anchor="middle">0.01</text>
<text x="104.70" y="528.50" text-anchor="middle">0.1</text>
<text x="138.00" y="528.50" text-anchor="middle">1</text>
<text x="171.30" y="528.50" text-anchor="middle">10</text>
<text x="204.60" y="528.50" text-anchor="middle">100</text>
<text x="237.90" y="528.50" text-anchor="middle">1000</text>
</g>
<text x="139.4" y="545.1" text-anchor="middle" font-family='"Liberation Sans", Arial, Helvetica, sans-serif' font-weight="bold" font-size="8.8" textLength="80" lengthAdjust="spacingAndGlyphs">FcγR conc. (μg/mL)</text>
<text transform="translate(13.8 449.2) rotate(-90)" text-anchor="middle" font-family='"Liberation Sans", Arial, Helvetica, sans-serif' font-weight="bold" font-size="8.3" textLength="37" lengthAdjust="spacingAndGlyphs">OD 405nm</text>
<text x="98.4" y="394.6" text-anchor="start" font-family='"Liberation Sans", Arial, Helvetica, sans-serif' font-weight="bold" font-size="12.2" textLength="76.8" lengthAdjust="spacingAndGlyphs">FcγRIIIa-F158</text>
<path d="M61.50 510.77 L63.51 510.77 L65.51 510.76 L67.52 510.75 L69.53 510.74 L71.53 510.72 L73.54 510.71 L75.54 510.69 L77.55 510.67 L79.56 510.65 L81.56 510.63 L83.57 510.60 L85.58 510.57 L87.58 510.54 L89.59 510.50 L91.59 510.46 L93.60 510.41 L95.61 510.35 L97.61 510.29 L99.62 510.22 L101.63 510.15 L103.63 510.06 L105.64 509.97 L107.65 509.86 L109.65 509.74 L111.66 509.60 L113.66 509.45 L115.67 509.28 L117.68 509.08 L119.68 508.87 L121.69 508.63 L123.70 508.36 L125.70 508.06 L127.71 507.72 L129.72 507.35 L131.72 506.93 L133.73 506.47 L135.73 505.95 L137.74 505.38 L139.75 504.74 L141.75 504.04 L143.76 503.26 L145.77 502.41 L147.77 501.46 L149.78 500.43 L151.78 499.30 L153.79 498.07 L155.80 496.73 L157.80 495.27 L159.81 493.71 L161.82 492.03 L163.82 490.23 L165.83 488.31 L167.84 486.28 L169.84 484.15 L171.85 481.91 L173.85 479.58 L175.86 477.18 L177.87 474.70 L179.87 472.18 L181.88 469.62 L183.89 467.04 L185.89 464.46 L187.90 461.90 L189.91 459.38 L191.91 456.91 L193.92 454.50 L195.92 452.17 L197.93 449.94 L199.94 447.80 L201.94 445.78 L203.95 443.86 L205.96 442.06 L207.96 440.38 L209.97 438.82 L211.97 437.37 L213.98 436.03 L215.99 434.80 L217.99 433.67 L220.00 432.63" fill="none" stroke="#000" stroke-width="1.2" stroke-linejoin="round"/>
<g fill="none" stroke="#444" stroke-width="0.75"><circle cx="61.50" cy="511.00" r="2.5"/><circle cx="77.50" cy="510.80" r="2.5"/><circle cx="93.25" cy="510.20" r="2.5"/><circle cx="109.25" cy="509.30" r="2.5"/><circle cx="125.00" cy="508.20" r="2.5"/><circle cx="140.60" cy="504.80" r="2.5"/><circle cx="156.50" cy="496.75" r="2.5"/><circle cx="172.30" cy="480.00" r="2.5"/><circle cx="188.25" cy="463.00" r="2.5"/><circle cx="204.25" cy="442.50" r="2.5"/><circle cx="220.00" cy="433.00" r="2.5"/></g>
<path d="M61.50 512.00 L77.50 512.00 L93.25 512.00 L109.25 512.00 L125.00 512.00 L140.60 512.00 L156.50 512.00 L172.30 512.00 L188.25 511.60 L204.25 510.90 L220.00 509.20" fill="none" stroke="#000" stroke-width="1.3" stroke-linejoin="round"/>
<g fill="#000"><path d="M59.10 510.07 L63.90 510.07 L61.50 514.67 Z"/><path d="M75.10 510.07 L79.90 510.07 L77.50 514.67 Z"/><path d="M90.85 510.07 L95.65 510.07 L93.25 514.67 Z"/><path d="M106.85 510.07 L111.65 510.07 L109.25 514.67 Z"/><path d="M122.60 510.07 L127.40 510.07 L125.00 514.67 Z"/><path d="M138.20 510.07 L143.00 510.07 L140.60 514.67 Z"/><path d="M154.10 510.07 L158.90 510.07 L156.50 514.67 Z"/><path d="M169.90 510.07 L174.70 510.07 L172.30 514.67 Z"/><path d="M185.85 509.67 L190.65 509.67 L188.25 514.27 Z"/><path d="M201.85 508.97 L206.65 508.97 L204.25 513.57 Z"/><path d="M217.60 507.27 L222.40 507.27 L220.00 511.87 Z"/></g>
<path d="M61.50 512.37 L63.51 512.07 L65.51 511.74 L67.52 511.39 L69.53 511.01 L71.53 510.61 L73.54 510.17 L75.54 509.70 L77.55 509.19 L79.56 508.64 L81.56 508.06 L83.57 507.43 L85.58 506.76 L87.58 506.04 L89.59 505.27 L91.59 504.45 L93.60 503.57 L95.61 502.64 L97.61 501.64 L99.62 500.58 L101.63 499.46 L103.63 498.27 L105.64 497.01 L107.65 495.68 L109.65 494.27 L111.66 492.79 L113.66 491.24 L115.67 489.61 L117.68 487.90 L119.68 486.13 L121.69 484.27 L123.70 482.35 L125.70 480.36 L127.71 478.30 L129.72 476.18 L131.72 474.00 L133.73 471.76 L135.73 469.48 L137.74 467.16 L139.75 464.80 L141.75 462.42 L143.76 460.01 L145.77 457.60 L147.77 455.17 L149.78 452.75 L151.78 450.34 L153.79 447.95 L155.80 445.59 L157.80 443.26 L159.81 440.97 L161.82 438.72 L163.82 436.53 L165.83 434.39 L167.84 432.31 L169.84 430.30 L171.85 428.36 L173.85 426.49 L175.86 424.69 L177.87 422.97 L179.87 421.32 L181.88 419.75 L183.89 418.25 L185.89 416.83 L187.90 415.48 L189.91 414.20 L191.91 412.99 L193.92 411.85 L195.92 410.78 L197.93 409.77 L199.94 408.82 L201.94 407.93 L203.95 407.09 L205.96 406.31 L207.96 405.58 L209.97 404.89 L211.97 404.26 L213.98 403.66 L215.99 403.11 L217.99 402.59 L220.00 402.11" fill="none" stroke="#000" stroke-width="1.4" stroke-linejoin="round"/>
<g fill="#000"><circle cx="61.50" cy="509.50" r="2.5"/><circle cx="77.50" cy="508.75" r="2.5"/><circle cx="93.25" cy="506.25" r="2.5"/><circle cx="109.25" cy="498.00" r="2.5"/><circle cx="125.00" cy="481.25" r="2.5"/><circle cx="140.60" cy="460.00" r="2.5"/><circle cx="156.50" cy="442.50" r="2.5"/><circle cx="172.30" cy="429.75" r="2.5"/><circle cx="188.25" cy="420.25" r="2.5"/><circle cx="204.25" cy="405.75" r="2.5"/><circle cx="220.00" cy="399.75" r="2.5"/></g>
<rect x="339" y="510.6" width="148.5" height="2.36" fill="#8a8a8a"/>
<g stroke="#000" stroke-width="1.8" fill="none" stroke-linecap="butt">
<path d="M305.8 377.48 V513.20"/>
<path d="M304.90 512.3 L505.90 513.40"/>
</g>
<g stroke="#000" stroke-width="1.5" fill="none">
<path d="M301.60 512.30 H305.8"/>
<path d="M303.20 495.56 H305.8"/>
<path d="M301.60 478.82 H305.8"/>
<path d="M303.20 462.08 H305.8"/>
<path d="M301.60 445.34 H305.8"/>
<path d="M303.20 428.60 H305.8"/>
<path d="M301.60 411.86 H305.8"/>
<path d="M303.20 395.12 H305.8"/>
<path d="M301.60 378.38 H305.8"/>
</g>
<g stroke="#000" stroke-width="1.6" fill="none">
<path d="M305.80 512.30 V517.10"/>
<path d="M315.81 512.36 V515.76" stroke-width="1.45"/>
<path d="M321.66 512.39 V515.79" stroke-width="1.45"/>
<path d="M325.82 512.41 V515.81" stroke-width="1.45"/>
<path d="M329.04 512.43 V515.83" stroke-width="1.45"/>
<path d="M331.67 512.44 V515.84" stroke-width="1.45"/>
<path d="M333.90 512.45 V515.85" stroke-width="1.45"/>
<path d="M335.83 512.47 V515.87" stroke-width="1.45"/>
<path d="M337.53 512.47 V515.87" stroke-width="1.45"/>
<path d="M339.05 512.48 V517.28"/>
<path d="M349.06 512.54 V515.94" stroke-width="1.45"/>
<path d="M354.91 512.57 V515.97" stroke-width="1.45"/>
<path d="M359.07 512.59 V515.99" stroke-width="1.45"/>
<path d="M362.29 512.61 V516.01" stroke-width="1.45"/>
<path d="M364.92 512.63 V516.03" stroke-width="1.45"/>
<path d="M367.15 512.64 V516.04" stroke-width="1.45"/>
<path d="M369.08 512.65 V516.05" stroke-width="1.45"/>
<path d="M370.78 512.66 V516.06" stroke-width="1.45"/>
<path d="M372.30 512.67 V517.47"/>
<path d="M382.31 512.72 V516.12" stroke-width="1.45"/>
<path d="M388.16 512.75 V516.15" stroke-width="1.45"/>
<path d="M392.32 512.78 V516.18" stroke-width="1.45"/>
<path d="M395.54 512.79 V516.19" stroke-width="1.45"/>
<path d="M398.17 512.81 V516.21" stroke-width="1.45"/>
<path d="M400.40 512.82 V516.22" stroke-width="1.45"/>
<path d="M402.33 512.83 V516.23" stroke-width="1.45"/>
<path d="M404.03 512.84 V516.24" stroke-width="1.45"/>
<path d="M405.55 512.85 V517.65"/>
<path d="M415.56 512.91 V516.31" stroke-width="1.45"/>
<path d="M421.41 512.94 V516.34" stroke-width="1.45"/>
<path d="M425.57 512.96 V516.36" stroke-width="1.45"/>
<path d="M428.79 512.98 V516.38" stroke-width="1.45"/>
<path d="M431.42 512.99 V516.39" stroke-width="1.45"/>
<path d="M433.65 513.00 V516.40" stroke-width="1.45"/>
<path d="M435.58 513.02 V516.42" stroke-width="1.45"/>
<path d="M437.28 513.02 V516.42" stroke-width="1.45"/>
<path d="M438.80 513.03 V517.83"/>
<path d="M448.81 513.09 V516.49" stroke-width="1.45"/>
<path d="M454.66 513.12 V516.52" stroke-width="1.45"/>
<path d="M458.82 513.14 V516.54" stroke-width="1.45"/>
<path d="M462.04 513.16 V516.56" stroke-width="1.45"/>
<path d="M464.67 513.18 V516.58" stroke-width="1.45"/>
<path d="M466.90 513.19 V516.59" stroke-width="1.45"/>
<path d="M468.83 513.20 V516.60" stroke-width="1.45"/>
<path d="M470.53 513.21 V516.61" stroke-width="1.45"/>
<path d="M472.05 513.22 V518.02"/>
<path d="M482.06 513.27 V516.67" stroke-width="1.45"/>
<path d="M487.91 513.30 V516.70" stroke-width="1.45"/>
<path d="M492.07 513.33 V516.73" stroke-width="1.45"/>
<path d="M495.29 513.34 V516.74" stroke-width="1.45"/>
<path d="M497.92 513.36 V516.76" stroke-width="1.45"/>
<path d="M500.15 513.37 V516.77" stroke-width="1.45"/>
<path d="M502.08 513.38 V516.78" stroke-width="1.45"/>
<path d="M503.78 513.39 V516.79" stroke-width="1.45"/>
<path d="M505.30 513.40 V518.20"/>
</g>
<g font-family='"Liberation Sans", Arial, Helvetica, sans-serif' font-weight="bold" font-size="8.8" letter-spacing="0.2" fill="#000">
<text x="300.30" y="514.77" text-anchor="end">0</text>
<text x="300.30" y="481.29" text-anchor="end">1</text>
<text x="300.30" y="447.81" text-anchor="end">2</text>
<text x="300.30" y="414.33" text-anchor="end">3</text>
<text x="300.30" y="380.85" text-anchor="end">4</text>
<text x="305.80" y="526.00" text-anchor="middle">0.0001</text>
<text x="339.05" y="526.00" text-anchor="middle">0.001</text>
<text x="372.30" y="526.00" text-anchor="middle">0.01</text>
<text x="405.55" y="526.00" text-anchor="middle">0.1</text>
<text x="438.80" y="526.00" text-anchor="middle">1</text>
<text x="472.05" y="526.00" text-anchor="middle">10</text>
<text x="505.30" y="526.00" text-anchor="middle">100</text>
</g>
<text x="405.8" y="541.7" text-anchor="middle" font-family='"Liberation Sans", Arial, Helvetica, sans-serif' font-weight="bold" font-size="8.8" textLength="78" lengthAdjust="spacingAndGlyphs">FcγR conc. (μg/mL)</text>
<text transform="translate(290.2 447) rotate(-90)" text-anchor="middle" font-family='"Liberation Sans", Arial, Helvetica, sans-serif' font-weight="bold" font-size="8.3" textLength="37.5" lengthAdjust="spacingAndGlyphs">OD 405nm</text>
<text x="365.6" y="388.2" text-anchor="start" font-family='"Liberation Sans", Arial, Helvetica, sans-serif' font-weight="bold" font-size="12.2" textLength="77.5" lengthAdjust="spacingAndGlyphs">FcγRIIIa-V158</text>
<path d="M339.00 509.52 L340.88 509.47 L342.76 509.42 L344.64 509.36 L346.52 509.29 L348.40 509.21 L350.28 509.12 L352.16 509.02 L354.04 508.91 L355.92 508.79 L357.80 508.64 L359.68 508.48 L361.56 508.30 L363.44 508.09 L365.32 507.86 L367.20 507.59 L369.08 507.30 L370.96 506.96 L372.84 506.59 L374.72 506.16 L376.59 505.69 L378.47 505.16 L380.35 504.56 L382.23 503.89 L384.11 503.14 L385.99 502.31 L387.87 501.38 L389.75 500.35 L391.63 499.20 L393.51 497.93 L395.39 496.53 L397.27 495.00 L399.15 493.31 L401.03 491.47 L402.91 489.47 L404.79 487.31 L406.67 484.98 L408.55 482.48 L410.43 479.81 L412.31 476.99 L414.19 474.01 L416.07 470.90 L417.95 467.67 L419.83 464.34 L421.71 460.93 L423.59 457.46 L425.47 453.96 L427.35 450.46 L429.23 446.99 L431.11 443.57 L432.99 440.22 L434.87 436.97 L436.75 433.84 L438.63 430.84 L440.51 428.00 L442.39 425.31 L444.27 422.78 L446.15 420.42 L448.03 418.23 L449.91 416.21 L451.78 414.34 L453.66 412.63 L455.54 411.07 L457.42 409.66 L459.30 408.37 L461.18 407.20 L463.06 406.16 L464.94 405.21 L466.82 404.36 L468.70 403.60 L470.58 402.92 L472.46 402.31 L474.34 401.77 L476.22 401.29 L478.10 400.86 L479.98 400.47 L481.86 400.13 L483.74 399.83 L485.62 399.56 L487.50 399.33" fill="none" stroke="#000" stroke-width="1.2" stroke-linejoin="round"/>
<g fill="none" stroke="#444" stroke-width="0.75"><circle cx="339.00" cy="510.00" r="2.5"/><circle cx="348.90" cy="509.50" r="2.5"/><circle cx="361.90" cy="507.50" r="2.5"/><circle cx="376.70" cy="505.75" r="2.5"/><circle cx="391.60" cy="498.75" r="2.5"/><circle cx="407.50" cy="484.25" r="2.5"/><circle cx="423.50" cy="458.00" r="2.5"/><circle cx="439.50" cy="428.75" r="2.5"/><circle cx="455.40" cy="411.00" r="2.5"/><circle cx="471.50" cy="404.50" r="2.5"/><circle cx="487.50" cy="398.00" r="2.5"/></g>
<path d="M339.00 510.60 L348.90 510.60 L361.90 510.60 L376.70 510.60 L391.60 510.60 L407.50 510.60 L423.50 510.60 L439.50 510.60 L455.40 510.60 L471.50 510.60 L487.50 510.60" fill="none" stroke="#000" stroke-width="1.2" stroke-linejoin="round"/>
<g fill="#000"><path d="M336.30 507.88 L341.70 507.88 L339.00 512.68 Z"/><path d="M346.20 507.88 L351.60 507.88 L348.90 512.68 Z"/><path d="M359.20 507.88 L364.60 507.88 L361.90 512.68 Z"/><path d="M374.00 507.88 L379.40 507.88 L376.70 512.68 Z"/><path d="M388.90 507.88 L394.30 507.88 L391.60 512.68 Z"/><path d="M404.80 507.88 L410.20 507.88 L407.50 512.68 Z"/><path d="M420.80 507.88 L426.20 507.88 L423.50 512.68 Z"/><path d="M436.80 507.88 L442.20 507.88 L439.50 512.68 Z"/><path d="M452.70 507.88 L458.10 507.88 L455.40 512.68 Z"/><path d="M468.80 507.88 L474.20 507.88 L471.50 512.68 Z"/><path d="M484.80 507.88 L490.20 507.88 L487.50 512.68 Z"/></g>
<path d="M339.00 509.52 L340.88 509.05 L342.76 508.54 L344.64 507.99 L346.52 507.40 L348.40 506.77 L350.28 506.09 L352.16 505.36 L354.04 504.57 L355.92 503.73 L357.80 502.84 L359.68 501.88 L361.56 500.85 L363.44 499.76 L365.32 498.60 L367.20 497.37 L369.08 496.07 L370.96 494.69 L372.84 493.23 L374.72 491.70 L376.59 490.09 L378.47 488.40 L380.35 486.63 L382.23 484.78 L384.11 482.86 L385.99 480.87 L387.87 478.81 L389.75 476.68 L391.63 474.49 L393.51 472.25 L395.39 469.96 L397.27 467.63 L399.15 465.26 L401.03 462.87 L402.91 460.45 L404.79 458.03 L406.67 455.60 L408.55 453.19 L410.43 450.78 L412.31 448.40 L414.19 446.05 L416.07 443.74 L417.95 441.47 L419.83 439.26 L421.71 437.11 L423.59 435.01 L425.47 432.99 L427.35 431.03 L429.23 429.15 L431.11 427.35 L432.99 425.62 L434.87 423.97 L436.75 422.40 L438.63 420.91 L440.51 419.50 L442.39 418.16 L444.27 416.89 L446.15 415.70 L448.03 414.58 L449.91 413.53 L451.78 412.54 L453.66 411.61 L455.54 410.75 L457.42 409.94 L459.30 409.18 L461.18 408.48 L463.06 407.83 L464.94 407.22 L466.82 406.65 L468.70 406.12 L470.58 405.64 L472.46 405.18 L474.34 404.76 L476.22 404.38 L478.10 404.02 L479.98 403.68 L481.86 403.38 L483.74 403.09 L485.62 402.83 L487.50 402.59" fill="none" stroke="#000" stroke-width="1.4" stroke-linejoin="round"/>
<g fill="#000"><circle cx="339.00" cy="508.00" r="2.5"/><circle cx="348.90" cy="506.50" r="2.5"/><circle cx="361.90" cy="502.00" r="2.5"/><circle cx="376.70" cy="491.50" r="2.5"/><circle cx="391.60" cy="474.50" r="2.5"/><circle cx="407.50" cy="452.25" r="2.5"/><circle cx="423.50" cy="435.00" r="2.5"/><circle cx="439.50" cy="421.00" r="2.5"/><circle cx="455.40" cy="413.50" r="2.5"/><circle cx="471.50" cy="404.75" r="2.5"/><circle cx="487.50" cy="401.00" r="2.5"/></g>
<g stroke="#000" stroke-width="1.8" fill="none" stroke-linecap="butt">
<path d="M38.1 570.17 V705.95"/>
<path d="M37.20 705.05 L238.80 705.55"/>
</g>
<g stroke="#000" stroke-width="1.5" fill="none">
<path d="M33.90 705.05 H38.1"/>
<path d="M33.90 682.72 H38.1"/>
<path d="M33.90 660.39 H38.1"/>
<path d="M33.90 638.06 H38.1"/>
<path d="M33.90 615.73 H38.1"/>
<path d="M33.90 593.40 H38.1"/>
<path d="M33.90 571.07 H38.1"/>
</g>
<g stroke="#000" stroke-width="1.6" fill="none">
<path d="M38.10 705.05 V709.85"/>
<path d="M48.14 705.08 V708.48" stroke-width="1.45"/>
<path d="M54.01 705.09 V708.49" stroke-width="1.45"/>
<path d="M58.18 705.10 V708.50" stroke-width="1.45"/>
<path d="M61.41 705.11 V708.51" stroke-width="1.45"/>
<path d="M64.05 705.11 V708.51" stroke-width="1.45"/>
<path d="M66.28 705.12 V708.52" stroke-width="1.45"/>
<path d="M68.22 705.13 V708.53" stroke-width="1.45"/>
<path d="M69.92 705.13 V708.53" stroke-width="1.45"/>
<path d="M71.45 705.13 V709.93"/>
<path d="M81.49 705.16 V708.56" stroke-width="1.45"/>
<path d="M87.36 705.17 V708.57" stroke-width="1.45"/>
<path d="M91.53 705.18 V708.58" stroke-width="1.45"/>
<path d="M94.76 705.19 V708.59" stroke-width="1.45"/>
<path d="M97.40 705.20 V708.60" stroke-width="1.45"/>
<path d="M99.63 705.20 V708.60" stroke-width="1.45"/>
<path d="M101.57 705.21 V708.61" stroke-width="1.45"/>
<path d="M103.27 705.21 V708.61" stroke-width="1.45"/>
<path d="M104.80 705.22 V710.02"/>
<path d="M114.84 705.24 V708.64" stroke-width="1.45"/>
<path d="M120.71 705.26 V708.66" stroke-width="1.45"/>
<path d="M124.88 705.27 V708.67" stroke-width="1.45"/>
<path d="M128.11 705.27 V708.67" stroke-width="1.45"/>
<path d="M130.75 705.28 V708.68" stroke-width="1.45"/>
<path d="M132.98 705.29 V708.69" stroke-width="1.45"/>
<path d="M134.92 705.29 V708.69" stroke-width="1.45"/>
<path d="M136.62 705.30 V708.70" stroke-width="1.45"/>
<path d="M138.15 705.30 V710.10"/>
<path d="M148.19 705.33 V708.73" stroke-width="1.45"/>
<path d="M154.06 705.34 V708.74" stroke-width="1.45"/>
<path d="M158.23 705.35 V708.75" stroke-width="1.45"/>
<path d="M161.46 705.36 V708.76" stroke-width="1.45"/>
<path d="M164.10 705.36 V708.76" stroke-width="1.45"/>
<path d="M166.33 705.37 V708.77" stroke-width="1.45"/>
<path d="M168.27 705.38 V708.78" stroke-width="1.45"/>
<path d="M169.97 705.38 V708.78" stroke-width="1.45"/>
<path d="M171.50 705.38 V710.18"/>
<path d="M181.54 705.41 V708.81" stroke-width="1.45"/>
<path d="M187.41 705.42 V708.82" stroke-width="1.45"/>
<path d="M191.58 705.43 V708.83" stroke-width="1.45"/>
<path d="M194.81 705.44 V708.84" stroke-width="1.45"/>
<path d="M197.45 705.45 V708.85" stroke-width="1.45"/>
<path d="M199.68 705.45 V708.85" stroke-width="1.45"/>
<path d="M201.62 705.46 V708.86" stroke-width="1.45"/>
<path d="M203.32 705.46 V708.86" stroke-width="1.45"/>
<path d="M204.85 705.47 V710.27"/>
<path d="M214.89 705.49 V708.89" stroke-width="1.45"/>
<path d="M220.76 705.51 V708.91" stroke-width="1.45"/>
<path d="M224.93 705.52 V708.92" stroke-width="1.45"/>
<path d="M228.16 705.52 V708.92" stroke-width="1.45"/>
<path d="M230.80 705.53 V708.93" stroke-width="1.45"/>
<path d="M233.03 705.54 V708.94" stroke-width="1.45"/>
<path d="M234.97 705.54 V708.94" stroke-width="1.45"/>
<path d="M236.67 705.55 V708.95" stroke-width="1.45"/>
<path d="M238.20 705.55 V710.35"/>
</g>
<g font-family='"Liberation Sans", Arial, Helvetica, sans-serif' font-weight="bold" font-size="8.8" letter-spacing="0.2" fill="#000">
<text x="32.60" y="707.52" text-anchor="end">0.00</text>
<text x="32.60" y="685.19" text-anchor="end">0.25</text>
<text x="32.60" y="662.86" text-anchor="end">0.50</text>
<text x="32.60" y="640.53" text-anchor="end">0.75</text>
<text x="32.60" y="618.20" text-anchor="end">1.00</text>
<text x="32.60" y="595.87" text-anchor="end">1.25</text>
<text x="32.60" y="573.54" text-anchor="end">1.50</text>
<text x="38.10" y="718.90" text-anchor="middle">0.001</text>
<text x="71.45" y="718.90" text-anchor="middle">0.01</text>
<text x="104.80" y="718.90" text-anchor="middle">0.1</text>
<text x="138.15" y="718.90" text-anchor="middle">1</text>
<text x="171.50" y="718.90" text-anchor="middle">10</text>
<text x="204.85" y="718.90" text-anchor="middle">100</text>
<text x="238.20" y="718.90" text-anchor="middle">1000</text>
</g>
<text x="139.4" y="733.2" text-anchor="middle" font-family='"Liberation Sans", Arial, Helvetica, sans-serif' font-weight="bold" font-size="8.8" textLength="80" lengthAdjust="spacingAndGlyphs">FcγR conc. (μg/mL)</text>
<text transform="translate(6.3 639) rotate(-90)" text-anchor="middle" font-family='"Liberation Sans", Arial, Helvetica, sans-serif' font-weight="bold" font-size="7.8" textLength="35" lengthAdjust="spacingAndGlyphs">OD405nm</text>
<text x="99.7" y="578.5" text-anchor="start" font-family='"Liberation Sans", Arial, Helvetica, sans-serif' font-weight="bold" font-size="11.8" textLength="73.5" lengthAdjust="spacingAndGlyphs">FcγRIIIb NA1</text>
<path d="M61.50 697.23 L63.52 697.23 L65.53 697.22 L67.55 697.22 L69.56 697.22 L71.58 697.22 L73.59 697.21 L75.61 697.21 L77.63 697.20 L79.64 697.20 L81.66 697.19 L83.67 697.19 L85.69 697.18 L87.71 697.18 L89.72 697.17 L91.74 697.16 L93.75 697.15 L95.77 697.14 L97.78 697.13 L99.80 697.12 L101.82 697.11 L103.83 697.09 L105.85 697.08 L107.86 697.06 L109.88 697.04 L111.90 697.02 L113.91 697.00 L115.93 696.97 L117.94 696.94 L119.96 696.91 L121.97 696.88 L123.99 696.84 L126.01 696.80 L128.02 696.76 L130.04 696.71 L132.05 696.66 L134.07 696.60 L136.09 696.53 L138.10 696.46 L140.12 696.38 L142.13 696.30 L144.15 696.20 L146.16 696.10 L148.18 695.99 L150.20 695.86 L152.21 695.72 L154.23 695.57 L156.24 695.41 L158.26 695.22 L160.28 695.02 L162.29 694.80 L164.31 694.56 L166.32 694.29 L168.34 694.00 L170.35 693.68 L172.37 693.33 L174.39 692.94 L176.40 692.51 L178.42 692.04 L180.43 691.53 L182.45 690.96 L184.47 690.34 L186.48 689.66 L188.50 688.90 L190.51 688.08 L192.53 687.17 L194.54 686.17 L196.56 685.08 L198.58 683.87 L200.59 682.55 L202.61 681.09 L204.62 679.50 L206.64 677.74 L208.66 675.81 L210.67 673.69 L212.69 671.35 L214.70 668.79 L216.72 665.97 L218.73 662.88 L220.75 659.48" fill="none" stroke="#000" stroke-width="1.7" stroke-linejoin="round"/>
<g fill="none" stroke="#000" stroke-width="1.25"><circle cx="61.50" cy="697.30" r="2.7"/><circle cx="77.50" cy="697.30" r="2.7"/><circle cx="93.40" cy="697.30" r="2.7"/><circle cx="109.30" cy="697.30" r="2.7"/><circle cx="125.20" cy="696.80" r="2.7"/><circle cx="141.25" cy="695.80" r="2.7"/><circle cx="157.00" cy="694.90" r="2.7"/><circle cx="173.00" cy="693.50" r="2.7"/><circle cx="189.00" cy="689.00" r="2.7"/><circle cx="205.00" cy="679.00" r="2.7"/><circle cx="220.75" cy="659.50" r="2.7"/></g>
<path d="M61.50 698.71 L63.52 698.71 L65.53 698.71 L67.55 698.71 L69.56 698.71 L71.58 698.71 L73.59 698.71 L75.61 698.71 L77.63 698.71 L79.64 698.71 L81.66 698.71 L83.67 698.71 L85.69 698.71 L87.71 698.71 L89.72 698.71 L91.74 698.71 L93.75 698.71 L95.77 698.71 L97.78 698.71 L99.80 698.71 L101.82 698.71 L103.83 698.71 L105.85 698.71 L107.86 698.71 L109.88 698.71 L111.90 698.71 L113.91 698.71 L115.93 698.71 L117.94 698.71 L119.96 698.71 L121.97 698.71 L123.99 698.71 L126.01 698.71 L128.02 698.71 L130.04 698.71 L132.05 698.71 L134.07 698.71 L136.09 698.71 L138.10 698.71 L140.12 698.71 L142.13 698.71 L144.15 698.71 L146.16 698.71 L148.18 698.70 L150.20 698.70 L152.21 698.70 L154.23 698.70 L156.24 698.69 L158.26 698.69 L160.28 698.69 L162.29 698.68 L164.31 698.67 L166.32 698.66 L168.34 698.65 L170.35 698.64 L172.37 698.62 L174.39 698.60 L176.40 698.58 L178.42 698.54 L180.43 698.51 L182.45 698.46 L184.47 698.41 L186.48 698.34 L188.50 698.26 L190.51 698.17 L192.53 698.07 L194.54 697.95 L196.56 697.82 L198.58 697.68 L200.59 697.53 L202.61 697.38 L204.62 697.22 L206.64 697.06 L208.66 696.90 L210.67 696.75 L212.69 696.62 L214.70 696.50 L216.72 696.38 L218.73 696.29 L220.75 696.20" fill="none" stroke="#000" stroke-width="1.5" stroke-linejoin="round"/>
<g fill="#000"><path d="M58.80 696.68 L64.20 696.68 L61.50 701.48 Z"/><path d="M74.80 696.68 L80.20 696.68 L77.50 701.48 Z"/><path d="M90.70 696.68 L96.10 696.68 L93.40 701.48 Z"/><path d="M106.60 696.68 L112.00 696.68 L109.30 701.48 Z"/><path d="M122.50 696.68 L127.90 696.68 L125.20 701.48 Z"/><path d="M138.55 696.68 L143.95 696.68 L141.25 701.48 Z"/><path d="M154.30 696.68 L159.70 696.68 L157.00 701.48 Z"/><path d="M170.30 696.68 L175.70 696.68 L173.00 701.48 Z"/><path d="M186.30 696.18 L191.70 696.18 L189.00 700.98 Z"/><path d="M202.30 695.18 L207.70 695.18 L205.00 699.98 Z"/><path d="M218.05 694.18 L223.45 694.18 L220.75 698.98 Z"/></g>
<path d="M61.50 697.81 L63.52 697.79 L65.53 697.76 L67.55 697.74 L69.56 697.71 L71.58 697.68 L73.59 697.64 L75.61 697.60 L77.63 697.56 L79.64 697.51 L81.66 697.46 L83.67 697.40 L85.69 697.34 L87.71 697.27 L89.72 697.20 L91.74 697.12 L93.75 697.03 L95.77 696.93 L97.78 696.82 L99.80 696.70 L101.82 696.57 L103.83 696.42 L105.85 696.27 L107.86 696.09 L109.88 695.90 L111.90 695.70 L113.91 695.47 L115.93 695.22 L117.94 694.95 L119.96 694.65 L121.97 694.32 L123.99 693.96 L126.01 693.57 L128.02 693.15 L130.04 692.68 L132.05 692.18 L134.07 691.63 L136.09 691.02 L138.10 690.37 L140.12 689.66 L142.13 688.89 L144.15 688.06 L146.16 687.16 L148.18 686.18 L150.20 685.13 L152.21 684.00 L154.23 682.78 L156.24 681.47 L158.26 680.07 L160.28 678.58 L162.29 676.98 L164.31 675.29 L166.32 673.49 L168.34 671.60 L170.35 669.60 L172.37 667.50 L174.39 665.30 L176.40 663.00 L178.42 660.62 L180.43 658.15 L182.45 655.61 L184.47 653.00 L186.48 650.33 L188.50 647.61 L190.51 644.85 L192.53 642.07 L194.54 639.27 L196.56 636.47 L198.58 633.69 L200.59 630.93 L202.61 628.20 L204.62 625.53 L206.64 622.91 L208.66 620.36 L210.67 617.89 L212.69 615.50 L214.70 613.19 L216.72 610.99 L218.73 608.88 L220.75 606.87" fill="none" stroke="#000" stroke-width="1.8" stroke-linejoin="round"/>
<g fill="#000"><circle cx="61.50" cy="696.70" r="2.5"/><circle cx="77.50" cy="696.70" r="2.5"/><circle cx="93.40" cy="696.70" r="2.5"/><circle cx="109.30" cy="696.40" r="2.5"/><circle cx="125.20" cy="695.20" r="2.5"/><circle cx="141.25" cy="691.00" r="2.5"/><circle cx="157.00" cy="680.75" r="2.5"/><circle cx="173.00" cy="665.25" r="2.5"/><circle cx="189.00" cy="646.00" r="2.5"/><circle cx="205.00" cy="627.50" r="2.5"/><circle cx="220.75" cy="605.75" r="2.5"/></g>
<g stroke="#000" stroke-width="1.8" fill="none" stroke-linecap="butt">
<path d="M309.6 569.57 V705.35"/>
<path d="M308.70 704.45 L510.60 704.95"/>
</g>
<g stroke="#000" stroke-width="1.5" fill="none">
<path d="M305.40 704.45 H309.6"/>
<path d="M305.40 682.12 H309.6"/>
<path d="M305.40 659.79 H309.6"/>
<path d="M305.40 637.46 H309.6"/>
<path d="M305.40 615.13 H309.6"/>
<path d="M305.40 592.80 H309.6"/>
<path d="M305.40 570.47 H309.6"/>
</g>
<g stroke="#000" stroke-width="1.6" fill="none">
<path d="M309.60 704.45 V709.25"/>
<path d="M319.65 704.48 V707.88" stroke-width="1.45"/>
<path d="M325.54 704.49 V707.89" stroke-width="1.45"/>
<path d="M329.71 704.50 V707.90" stroke-width="1.45"/>
<path d="M332.95 704.51 V707.91" stroke-width="1.45"/>
<path d="M335.59 704.51 V707.91" stroke-width="1.45"/>
<path d="M337.83 704.52 V707.92" stroke-width="1.45"/>
<path d="M339.76 704.53 V707.93" stroke-width="1.45"/>
<path d="M341.47 704.53 V707.93" stroke-width="1.45"/>
<path d="M343.00 704.53 V709.33"/>
<path d="M353.05 704.56 V707.96" stroke-width="1.45"/>
<path d="M358.94 704.57 V707.97" stroke-width="1.45"/>
<path d="M363.11 704.58 V707.98" stroke-width="1.45"/>
<path d="M366.35 704.59 V707.99" stroke-width="1.45"/>
<path d="M368.99 704.60 V708.00" stroke-width="1.45"/>
<path d="M371.23 704.60 V708.00" stroke-width="1.45"/>
<path d="M373.16 704.61 V708.01" stroke-width="1.45"/>
<path d="M374.87 704.61 V708.01" stroke-width="1.45"/>
<path d="M376.40 704.62 V709.42"/>
<path d="M386.45 704.64 V708.04" stroke-width="1.45"/>
<path d="M392.34 704.66 V708.06" stroke-width="1.45"/>
<path d="M396.51 704.67 V708.07" stroke-width="1.45"/>
<path d="M399.75 704.67 V708.07" stroke-width="1.45"/>
<path d="M402.39 704.68 V708.08" stroke-width="1.45"/>
<path d="M404.63 704.69 V708.09" stroke-width="1.45"/>
<path d="M406.56 704.69 V708.09" stroke-width="1.45"/>
<path d="M408.27 704.70 V708.10" stroke-width="1.45"/>
<path d="M409.80 704.70 V709.50"/>
<path d="M419.85 704.73 V708.13" stroke-width="1.45"/>
<path d="M425.74 704.74 V708.14" stroke-width="1.45"/>
<path d="M429.91 704.75 V708.15" stroke-width="1.45"/>
<path d="M433.15 704.76 V708.16" stroke-width="1.45"/>
<path d="M435.79 704.76 V708.16" stroke-width="1.45"/>
<path d="M438.03 704.77 V708.17" stroke-width="1.45"/>
<path d="M439.96 704.78 V708.18" stroke-width="1.45"/>
<path d="M441.67 704.78 V708.18" stroke-width="1.45"/>
<path d="M443.20 704.78 V709.58"/>
<path d="M453.25 704.81 V708.21" stroke-width="1.45"/>
<path d="M459.14 704.82 V708.22" stroke-width="1.45"/>
<path d="M463.31 704.83 V708.23" stroke-width="1.45"/>
<path d="M466.55 704.84 V708.24" stroke-width="1.45"/>
<path d="M469.19 704.85 V708.25" stroke-width="1.45"/>
<path d="M471.43 704.85 V708.25" stroke-width="1.45"/>
<path d="M473.36 704.86 V708.26" stroke-width="1.45"/>
<path d="M475.07 704.86 V708.26" stroke-width="1.45"/>
<path d="M476.60 704.87 V709.67"/>
<path d="M486.65 704.89 V708.29" stroke-width="1.45"/>
<path d="M492.54 704.91 V708.31" stroke-width="1.45"/>
<path d="M496.71 704.92 V708.32" stroke-width="1.45"/>
<path d="M499.95 704.92 V708.32" stroke-width="1.45"/>
<path d="M502.59 704.93 V708.33" stroke-width="1.45"/>
<path d="M504.83 704.94 V708.34" stroke-width="1.45"/>
<path d="M506.76 704.94 V708.34" stroke-width="1.45"/>
<path d="M508.47 704.95 V708.35" stroke-width="1.45"/>
<path d="M510.00 704.95 V709.75"/>
</g>
<g font-family='"Liberation Sans", Arial, Helvetica, sans-serif' font-weight="bold" font-size="8.8" letter-spacing="0.2" fill="#000">
<text x="304.10" y="706.92" text-anchor="end">0.0</text>
<text x="304.10" y="684.59" text-anchor="end">0.5</text>
<text x="304.10" y="662.26" text-anchor="end">1.0</text>
<text x="304.10" y="639.93" text-anchor="end">1.5</text>
<text x="304.10" y="617.60" text-anchor="end">2.0</text>
<text x="304.10" y="595.27" text-anchor="end">2.5</text>
<text x="304.10" y="572.94" text-anchor="end">3.0</text>
<text x="309.60" y="717.70" text-anchor="middle">0.001</text>
<text x="343.00" y="717.70" text-anchor="middle">0.01</text>
<text x="376.40" y="717.70" text-anchor="middle">0.1</text>
<text x="409.80" y="717.70" text-anchor="middle">1</text>
<text x="443.20" y="717.70" text-anchor="middle">10</text>
<text x="476.60" y="717.70" text-anchor="middle">100</text>
<text x="510.00" y="717.70" text-anchor="middle">1000</text>
</g>
<text x="411" y="732.9" text-anchor="middle" font-family='"Liberation Sans", Arial, Helvetica, sans-serif' font-weight="bold" font-size="8.8" textLength="80" lengthAdjust="spacingAndGlyphs">FcγR conc. (μg/mL)</text>
<text transform="translate(283.6 637.7) rotate(-90)" text-anchor="middle" font-family='"Liberation Sans", Arial, Helvetica, sans-serif' font-weight="bold" font-size="7.8" textLength="35" lengthAdjust="spacingAndGlyphs">OD405nm</text>
<text x="372.2" y="578.5" text-anchor="start" font-family='"Liberation Sans", Arial, Helvetica, sans-serif' font-weight="bold" font-size="11.8" textLength="74" lengthAdjust="spacingAndGlyphs">FcγRIIIb NA2</text>
<path d="M333.00 699.84 L335.02 699.84 L337.04 699.84 L339.06 699.84 L341.08 699.84 L343.09 699.84 L345.11 699.84 L347.13 699.84 L349.15 699.84 L351.17 699.83 L353.19 699.83 L355.21 699.83 L357.23 699.83 L359.25 699.82 L361.27 699.82 L363.28 699.81 L365.30 699.81 L367.32 699.80 L369.34 699.79 L371.36 699.78 L373.38 699.77 L375.40 699.76 L377.42 699.75 L379.44 699.74 L381.46 699.72 L383.47 699.70 L385.49 699.68 L387.51 699.65 L389.53 699.62 L391.55 699.59 L393.57 699.55 L395.59 699.50 L397.61 699.45 L399.63 699.39 L401.65 699.32 L403.66 699.24 L405.68 699.15 L407.70 699.05 L409.72 698.93 L411.74 698.79 L413.76 698.63 L415.78 698.45 L417.80 698.24 L419.82 698.00 L421.84 697.73 L423.85 697.42 L425.87 697.06 L427.89 696.64 L429.91 696.17 L431.93 695.64 L433.95 695.02 L435.97 694.32 L437.99 693.52 L440.01 692.61 L442.03 691.58 L444.04 690.41 L446.06 689.08 L448.08 687.59 L450.10 685.90 L452.12 684.00 L454.14 681.88 L456.16 679.51 L458.18 676.88 L460.20 673.97 L462.22 670.76 L464.23 667.25 L466.25 663.42 L468.27 659.29 L470.29 654.84 L472.31 650.10 L474.33 645.09 L476.35 639.83 L478.37 634.36 L480.39 628.73 L482.41 622.98 L484.42 617.17 L486.44 611.35 L488.46 605.58 L490.48 599.92 L492.50 594.41" fill="none" stroke="#000" stroke-width="1.7" stroke-linejoin="round"/>
<g fill="none" stroke="#000" stroke-width="1.25"><circle cx="333.00" cy="700.00" r="2.6"/><circle cx="349.00" cy="700.00" r="2.6"/><circle cx="365.00" cy="700.00" r="2.6"/><circle cx="380.75" cy="700.00" r="2.6"/><circle cx="396.80" cy="699.50" r="2.6"/><circle cx="413.00" cy="698.50" r="2.6"/><circle cx="428.75" cy="695.75" r="2.6"/><circle cx="444.75" cy="689.50" r="2.6"/><circle cx="460.75" cy="674.00" r="2.6"/><circle cx="476.50" cy="639.00" r="2.6"/><circle cx="492.50" cy="594.50" r="2.6"/></g>
<path d="M333.00 700.50 L335.02 700.50 L337.04 700.50 L339.06 700.50 L341.08 700.50 L343.09 700.50 L345.11 700.50 L347.13 700.50 L349.15 700.50 L351.17 700.50 L353.19 700.50 L355.21 700.50 L357.23 700.50 L359.25 700.50 L361.27 700.50 L363.28 700.50 L365.30 700.50 L367.32 700.50 L369.34 700.50 L371.36 700.50 L373.38 700.50 L375.40 700.50 L377.42 700.50 L379.44 700.49 L381.46 700.49 L383.47 700.49 L385.49 700.49 L387.51 700.49 L389.53 700.49 L391.55 700.48 L393.57 700.48 L395.59 700.48 L397.61 700.47 L399.63 700.47 L401.65 700.46 L403.66 700.45 L405.68 700.45 L407.70 700.44 L409.72 700.43 L411.74 700.41 L413.76 700.40 L415.78 700.38 L417.80 700.36 L419.82 700.34 L421.84 700.31 L423.85 700.28 L425.87 700.24 L427.89 700.20 L429.91 700.15 L431.93 700.10 L433.95 700.03 L435.97 699.95 L437.99 699.86 L440.01 699.76 L442.03 699.64 L444.04 699.50 L446.06 699.34 L448.08 699.16 L450.10 698.95 L452.12 698.71 L454.14 698.43 L456.16 698.12 L458.18 697.76 L460.20 697.36 L462.22 696.90 L464.23 696.39 L466.25 695.82 L468.27 695.20 L470.29 694.51 L472.31 693.76 L474.33 692.95 L476.35 692.08 L478.37 691.16 L480.39 690.19 L482.41 689.18 L484.42 688.15 L486.44 687.11 L488.46 686.06 L490.48 685.02 L492.50 684.00" fill="none" stroke="#000" stroke-width="1.6" stroke-linejoin="round"/>
<g fill="#000"><path d="M330.30 698.48 L335.70 698.48 L333.00 703.28 Z"/><path d="M346.30 698.48 L351.70 698.48 L349.00 703.28 Z"/><path d="M362.30 698.48 L367.70 698.48 L365.00 703.28 Z"/><path d="M378.05 698.48 L383.45 698.48 L380.75 703.28 Z"/><path d="M394.10 698.48 L399.50 698.48 L396.80 703.28 Z"/><path d="M410.30 698.48 L415.70 698.48 L413.00 703.28 Z"/><path d="M426.05 697.98 L431.45 697.98 L428.75 702.78 Z"/><path d="M442.05 697.48 L447.45 697.48 L444.75 702.28 Z"/><path d="M458.05 695.23 L463.45 695.23 L460.75 700.03 Z"/><path d="M473.80 689.98 L479.20 689.98 L476.50 694.78 Z"/><path d="M489.80 681.98 L495.20 681.98 L492.50 686.78 Z"/></g>
<path d="M333.00 700.74 L335.02 700.72 L337.04 700.69 L339.06 700.66 L341.08 700.62 L343.09 700.58 L345.11 700.54 L347.13 700.50 L349.15 700.45 L351.17 700.39 L353.19 700.34 L355.21 700.27 L357.23 700.20 L359.25 700.13 L361.27 700.05 L363.28 699.96 L365.30 699.86 L367.32 699.76 L369.34 699.65 L371.36 699.52 L373.38 699.39 L375.40 699.24 L377.42 699.08 L379.44 698.91 L381.46 698.72 L383.47 698.52 L385.49 698.30 L387.51 698.06 L389.53 697.79 L391.55 697.51 L393.57 697.20 L395.59 696.87 L397.61 696.50 L399.63 696.11 L401.65 695.68 L403.66 695.22 L405.68 694.71 L407.70 694.17 L409.72 693.58 L411.74 692.94 L413.76 692.25 L415.78 691.50 L417.80 690.69 L419.82 689.82 L421.84 688.88 L423.85 687.86 L425.87 686.77 L427.89 685.59 L429.91 684.32 L431.93 682.96 L433.95 681.49 L435.97 679.92 L437.99 678.24 L440.01 676.44 L442.03 674.51 L444.04 672.46 L446.06 670.27 L448.08 667.95 L450.10 665.48 L452.12 662.87 L454.14 660.10 L456.16 657.18 L458.18 654.11 L460.20 650.88 L462.22 647.50 L464.23 643.97 L466.25 640.28 L468.27 636.45 L470.29 632.48 L472.31 628.38 L474.33 624.16 L476.35 619.83 L478.37 615.39 L480.39 610.87 L482.41 606.27 L484.42 601.61 L486.44 596.91 L488.46 592.19 L490.48 587.46 L492.50 582.73" fill="none" stroke="#000" stroke-width="1.8" stroke-linejoin="round"/>
<g fill="#000"><circle cx="333.00" cy="699.50" r="2.5"/><circle cx="349.00" cy="699.50" r="2.5"/><circle cx="365.00" cy="699.50" r="2.5"/><circle cx="380.75" cy="699.25" r="2.5"/><circle cx="396.80" cy="698.00" r="2.5"/><circle cx="413.00" cy="694.75" r="2.5"/><circle cx="428.75" cy="685.00" r="2.5"/><circle cx="444.75" cy="670.75" r="2.5"/><circle cx="460.75" cy="647.75" r="2.5"/><circle cx="476.50" cy="622.00" r="2.5"/><circle cx="492.50" cy="582.00" r="2.5"/></g>
</svg>
</body></html>
